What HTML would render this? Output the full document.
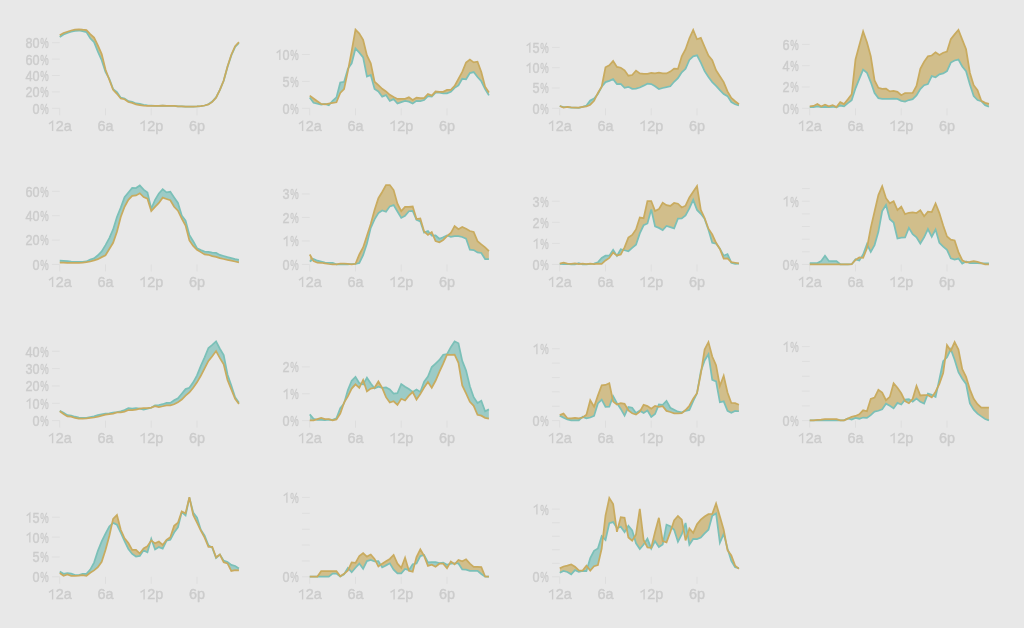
<!DOCTYPE html>
<html><head><meta charset="utf-8"><title>chart</title>
<style>
html,body{margin:0;padding:0;background:#e8e8e8;}
body{width:1024px;height:628px;overflow:hidden;}
svg{display:block;will-change:transform;opacity:0.999;}
text{font-family:"Liberation Sans",sans-serif;font-size:14.4px;fill:#cccccc;letter-spacing:0px;stroke:#cccccc;stroke-width:0.4px;}
.pc{letter-spacing:0;}
.h{fill:none;stroke:none;}
.one{fill:none;stroke:#cccccc;stroke-width:1.35;stroke-linejoin:miter;}
.yl{text-anchor:end;}
.xl{text-anchor:middle;}
.t{stroke:#dedede;stroke-width:1;fill:none;}
.lg{stroke:#c9ab5f;stroke-width:1.75;fill:none;stroke-linejoin:miter;stroke-linecap:butt;}
.lt{stroke:#7bc0b8;stroke-width:1.75;fill:none;stroke-linejoin:miter;stroke-linecap:butt;}
</style></head><body>
<svg width="1024" height="628" viewBox="0 0 1024 628">
<rect width="1024" height="628" fill="#e8e8e8"/>
<g>
<line x1="51.95" x2="59.75" y1="108.30" y2="108.30" class="t"/>
<text class="pc" transform="translate(40.25 113.70) scale(0.66 1)">%</text>
<text class="yl" transform="translate(39.65 113.70) scale(0.88 1)">0</text>
<line x1="51.95" x2="59.75" y1="91.90" y2="91.90" class="t"/>
<text class="pc" transform="translate(40.25 97.30) scale(0.66 1)">%</text>
<text class="yl" transform="translate(39.65 97.30) scale(0.88 1)">20</text>
<line x1="51.95" x2="59.75" y1="75.50" y2="75.50" class="t"/>
<text class="pc" transform="translate(40.25 80.90) scale(0.66 1)">%</text>
<text class="yl" transform="translate(39.65 80.90) scale(0.88 1)">40</text>
<line x1="51.95" x2="59.75" y1="59.10" y2="59.10" class="t"/>
<text class="pc" transform="translate(40.25 64.50) scale(0.66 1)">%</text>
<text class="yl" transform="translate(39.65 64.50) scale(0.88 1)">60</text>
<line x1="51.95" x2="59.75" y1="42.70" y2="42.70" class="t"/>
<text class="pc" transform="translate(40.25 48.10) scale(0.66 1)">%</text>
<text class="yl" transform="translate(39.65 48.10) scale(0.88 1)">80</text>
<line x1="59.75" x2="59.75" y1="108.30" y2="115.30" class="t"/>
<text x="59.75" y="130.90" class="xl"><tspan class="h">1</tspan>2a</text>
<path class="one" d="M48.95,123.90L52.60,121.40L52.60,130.90"/>
<line x1="105.50" x2="105.50" y1="108.30" y2="115.30" class="t"/>
<text x="105.50" y="130.90" class="xl">6a</text>
<line x1="151.25" x2="151.25" y1="108.30" y2="115.30" class="t"/>
<text x="151.25" y="130.90" class="xl"><tspan class="h">1</tspan>2p</text>
<path class="one" d="M140.45,123.90L144.10,121.40L144.10,130.90"/>
<line x1="197.00" x2="197.00" y1="108.30" y2="115.30" class="t"/>
<text x="197.00" y="130.90" class="xl">6p</text>
<clipPath id="c0a"><path d="M59.75,37.06L63.56,34.41L67.38,32.84L71.19,31.75L75.00,30.97L78.81,30.51L82.62,31.13L86.44,32.11L90.25,38.31L94.06,42.23L97.88,51.59L101.69,60.19L105.50,71.91L109.31,78.94L113.12,89.08L116.94,92.22L120.75,97.65L124.56,98.48L128.38,101.12L132.19,101.91L136.00,103.46L139.81,103.94L143.62,104.88L147.44,105.34L151.25,105.66L155.06,105.97L158.88,105.81L162.69,105.66L166.50,105.81L170.31,105.81L174.12,105.97L177.94,106.28L181.75,106.44L185.56,106.59L189.38,106.59L193.19,106.59L197.00,106.44L200.81,106.13L204.62,105.50L208.44,104.24L212.25,101.59L216.06,97.38L219.88,89.88L223.69,80.81L227.50,67.06L231.31,55.50L235.12,46.92L238.94,43.00L238.94,-11.70L59.75,-11.70Z"/></clipPath>
<clipPath id="c0b"><path d="M59.75,35.19L63.56,33.00L67.38,31.75L71.19,30.50L75.00,29.72L78.81,29.26L82.62,29.72L86.44,30.08L90.25,34.09L94.06,37.54L97.88,45.34L101.69,53.94L105.50,69.56L109.31,79.72L113.12,89.87L116.94,93.78L120.75,98.43L124.56,99.27L128.38,102.04L132.19,102.84L136.00,104.41L139.81,105.03L143.62,105.66L147.44,105.81L151.25,105.97L155.06,105.97L158.88,105.81L162.69,105.66L166.50,105.81L170.31,105.81L174.12,105.97L177.94,106.28L181.75,106.44L185.56,106.59L189.38,106.59L193.19,106.59L197.00,106.44L200.81,106.13L204.62,105.50L208.44,104.40L212.25,101.91L216.06,97.69L219.88,89.88L223.69,80.50L227.50,66.44L231.31,54.72L235.12,46.14L238.94,42.22L238.94,-11.70L59.75,-11.70Z"/></clipPath>
<path d="M59.75,35.19L63.56,33.00L67.38,31.75L71.19,30.50L75.00,29.72L78.81,29.26L82.62,29.72L86.44,30.08L90.25,34.09L94.06,37.54L97.88,45.34L101.69,53.94L105.50,69.56L109.31,79.72L113.12,89.87L116.94,93.78L120.75,98.43L124.56,99.27L128.38,102.04L132.19,102.84L136.00,104.41L139.81,105.03L143.62,105.66L147.44,105.81L151.25,105.97L155.06,105.97L158.88,105.81L162.69,105.66L166.50,105.81L170.31,105.81L174.12,105.97L177.94,106.28L181.75,106.44L185.56,106.59L189.38,106.59L193.19,106.59L197.00,106.44L200.81,106.13L204.62,105.50L208.44,104.40L212.25,101.91L216.06,97.69L219.88,89.88L223.69,80.50L227.50,66.44L231.31,54.72L235.12,46.14L238.94,42.22L238.94,128.30L59.75,128.30Z" clip-path="url(#c0a)" fill="#d1be8b"/>
<path d="M59.75,37.06L63.56,34.41L67.38,32.84L71.19,31.75L75.00,30.97L78.81,30.51L82.62,31.13L86.44,32.11L90.25,38.31L94.06,42.23L97.88,51.59L101.69,60.19L105.50,71.91L109.31,78.94L113.12,89.08L116.94,92.22L120.75,97.65L124.56,98.48L128.38,101.12L132.19,101.91L136.00,103.46L139.81,103.94L143.62,104.88L147.44,105.34L151.25,105.66L155.06,105.97L158.88,105.81L162.69,105.66L166.50,105.81L170.31,105.81L174.12,105.97L177.94,106.28L181.75,106.44L185.56,106.59L189.38,106.59L193.19,106.59L197.00,106.44L200.81,106.13L204.62,105.50L208.44,104.24L212.25,101.59L216.06,97.38L219.88,89.88L223.69,80.81L227.50,67.06L231.31,55.50L235.12,46.92L238.94,43.00L238.94,128.30L59.75,128.30Z" clip-path="url(#c0b)" fill="#9ccbc6"/>
<path d="M59.75,37.06L63.56,34.41L67.38,32.84L71.19,31.75L75.00,30.97L78.81,30.51L82.62,31.13L86.44,32.11L90.25,38.31L94.06,42.23L97.88,51.59L101.69,60.19L105.50,71.91L109.31,78.94L113.12,89.08L116.94,92.22L120.75,97.65L124.56,98.48L128.38,101.12L132.19,101.91L136.00,103.46L139.81,103.94L143.62,104.88L147.44,105.34L151.25,105.66L155.06,105.97L158.88,105.81L162.69,105.66L166.50,105.81L170.31,105.81L174.12,105.97L177.94,106.28L181.75,106.44L185.56,106.59L189.38,106.59L193.19,106.59L197.00,106.44L200.81,106.13L204.62,105.50L208.44,104.24L212.25,101.59L216.06,97.38L219.88,89.88L223.69,80.81L227.50,67.06L231.31,55.50L235.12,46.92L238.94,43.00" class="lt"/>
<path d="M59.75,35.19L63.56,33.00L67.38,31.75L71.19,30.50L75.00,29.72L78.81,29.26L82.62,29.72L86.44,30.08L90.25,34.09L94.06,37.54L97.88,45.34L101.69,53.94L105.50,69.56L109.31,79.72L113.12,89.87L116.94,93.78L120.75,98.43L124.56,99.27L128.38,102.04L132.19,102.84L136.00,104.41L139.81,105.03L143.62,105.66L147.44,105.81L151.25,105.97L155.06,105.97L158.88,105.81L162.69,105.66L166.50,105.81L170.31,105.81L174.12,105.97L177.94,106.28L181.75,106.44L185.56,106.59L189.38,106.59L193.19,106.59L197.00,106.44L200.81,106.13L204.62,105.50L208.44,104.40L212.25,101.91L216.06,97.69L219.88,89.88L223.69,80.50L227.50,66.44L231.31,54.72L235.12,46.14L238.94,42.22" class="lg"/>
</g>
<g>
<line x1="301.95" x2="309.75" y1="108.30" y2="108.30" class="t"/>
<text class="pc" transform="translate(290.25 113.70) scale(0.66 1)">%</text>
<text class="yl" transform="translate(289.65 113.70) scale(0.88 1)">0</text>
<line x1="301.95" x2="309.75" y1="81.40" y2="81.40" class="t"/>
<text class="pc" transform="translate(290.25 86.80) scale(0.66 1)">%</text>
<text class="yl" transform="translate(289.65 86.80) scale(0.88 1)">5</text>
<line x1="301.95" x2="309.75" y1="54.50" y2="54.50" class="t"/>
<text class="pc" transform="translate(290.25 59.90) scale(0.66 1)">%</text>
<text class="yl" transform="translate(289.65 59.90) scale(0.88 1)"><tspan class="h">1</tspan>0</text>
<path class="one" d="M276.63,52.90L279.84,50.40L279.84,59.90"/>
<line x1="309.75" x2="309.75" y1="108.30" y2="115.30" class="t"/>
<text x="309.75" y="130.90" class="xl"><tspan class="h">1</tspan>2a</text>
<path class="one" d="M298.95,123.90L302.60,121.40L302.60,130.90"/>
<line x1="355.50" x2="355.50" y1="108.30" y2="115.30" class="t"/>
<text x="355.50" y="130.90" class="xl">6a</text>
<line x1="401.25" x2="401.25" y1="108.30" y2="115.30" class="t"/>
<text x="401.25" y="130.90" class="xl"><tspan class="h">1</tspan>2p</text>
<path class="one" d="M390.45,123.90L394.10,121.40L394.10,130.90"/>
<line x1="447.00" x2="447.00" y1="108.30" y2="115.30" class="t"/>
<text x="447.00" y="130.90" class="xl">6p</text>
<clipPath id="c1a"><path d="M309.75,97.38L313.56,102.80L317.38,103.63L321.19,104.70L325.00,103.97L328.81,105.33L332.62,100.81L336.44,97.36L340.25,82.50L344.06,81.94L347.88,68.78L351.69,63.31L355.50,48.60L359.31,52.69L363.12,57.39L366.94,76.55L370.75,75.03L374.56,89.06L378.38,91.45L382.19,96.68L386.00,95.13L389.81,100.86L393.62,99.16L397.44,103.46L401.25,102.06L405.06,100.83L408.88,101.60L412.69,103.50L416.50,100.86L420.31,101.12L424.12,100.01L427.94,96.21L431.75,96.51L435.56,92.74L439.38,92.69L443.19,93.46L447.00,93.30L450.81,91.74L454.62,87.84L458.44,85.48L462.25,78.78L466.06,79.26L469.88,73.04L473.69,72.05L477.50,77.06L481.31,81.28L485.12,89.09L488.94,95.34L488.94,-11.70L309.75,-11.70Z"/></clipPath>
<clipPath id="c1b"><path d="M309.75,95.66L313.56,98.47L317.38,101.28L321.19,103.92L325.00,104.40L328.81,103.63L332.62,102.84L336.44,102.29L340.25,93.01L344.06,89.08L347.88,71.13L351.69,50.81L355.50,29.65L359.31,33.63L363.12,39.88L366.94,55.50L370.75,63.31L374.56,81.73L378.38,85.19L382.19,88.78L386.00,91.44L389.81,94.88L393.62,97.06L397.44,98.92L401.25,98.94L405.06,98.77L408.88,97.32L412.69,99.89L416.50,97.73L420.31,98.16L424.12,98.10L427.94,93.97L431.75,95.62L435.56,91.53L439.38,91.91L443.19,91.89L447.00,89.90L450.81,89.83L454.62,85.97L458.44,78.94L462.25,71.91L466.06,62.54L469.88,59.61L473.69,62.44L477.50,61.67L481.31,71.91L485.12,86.75L488.94,92.53L488.94,-11.70L309.75,-11.70Z"/></clipPath>
<path d="M309.75,95.66L313.56,98.47L317.38,101.28L321.19,103.92L325.00,104.40L328.81,103.63L332.62,102.84L336.44,102.29L340.25,93.01L344.06,89.08L347.88,71.13L351.69,50.81L355.50,29.65L359.31,33.63L363.12,39.88L366.94,55.50L370.75,63.31L374.56,81.73L378.38,85.19L382.19,88.78L386.00,91.44L389.81,94.88L393.62,97.06L397.44,98.92L401.25,98.94L405.06,98.77L408.88,97.32L412.69,99.89L416.50,97.73L420.31,98.16L424.12,98.10L427.94,93.97L431.75,95.62L435.56,91.53L439.38,91.91L443.19,91.89L447.00,89.90L450.81,89.83L454.62,85.97L458.44,78.94L462.25,71.91L466.06,62.54L469.88,59.61L473.69,62.44L477.50,61.67L481.31,71.91L485.12,86.75L488.94,92.53L488.94,128.30L309.75,128.30Z" clip-path="url(#c1a)" fill="#d1be8b"/>
<path d="M309.75,97.38L313.56,102.80L317.38,103.63L321.19,104.70L325.00,103.97L328.81,105.33L332.62,100.81L336.44,97.36L340.25,82.50L344.06,81.94L347.88,68.78L351.69,63.31L355.50,48.60L359.31,52.69L363.12,57.39L366.94,76.55L370.75,75.03L374.56,89.06L378.38,91.45L382.19,96.68L386.00,95.13L389.81,100.86L393.62,99.16L397.44,103.46L401.25,102.06L405.06,100.83L408.88,101.60L412.69,103.50L416.50,100.86L420.31,101.12L424.12,100.01L427.94,96.21L431.75,96.51L435.56,92.74L439.38,92.69L443.19,93.46L447.00,93.30L450.81,91.74L454.62,87.84L458.44,85.48L462.25,78.78L466.06,79.26L469.88,73.04L473.69,72.05L477.50,77.06L481.31,81.28L485.12,89.09L488.94,95.34L488.94,128.30L309.75,128.30Z" clip-path="url(#c1b)" fill="#9ccbc6"/>
<path d="M309.75,97.38L313.56,102.80L317.38,103.63L321.19,104.70L325.00,103.97L328.81,105.33L332.62,100.81L336.44,97.36L340.25,82.50L344.06,81.94L347.88,68.78L351.69,63.31L355.50,48.60L359.31,52.69L363.12,57.39L366.94,76.55L370.75,75.03L374.56,89.06L378.38,91.45L382.19,96.68L386.00,95.13L389.81,100.86L393.62,99.16L397.44,103.46L401.25,102.06L405.06,100.83L408.88,101.60L412.69,103.50L416.50,100.86L420.31,101.12L424.12,100.01L427.94,96.21L431.75,96.51L435.56,92.74L439.38,92.69L443.19,93.46L447.00,93.30L450.81,91.74L454.62,87.84L458.44,85.48L462.25,78.78L466.06,79.26L469.88,73.04L473.69,72.05L477.50,77.06L481.31,81.28L485.12,89.09L488.94,95.34" class="lt"/>
<path d="M309.75,95.66L313.56,98.47L317.38,101.28L321.19,103.92L325.00,104.40L328.81,103.63L332.62,102.84L336.44,102.29L340.25,93.01L344.06,89.08L347.88,71.13L351.69,50.81L355.50,29.65L359.31,33.63L363.12,39.88L366.94,55.50L370.75,63.31L374.56,81.73L378.38,85.19L382.19,88.78L386.00,91.44L389.81,94.88L393.62,97.06L397.44,98.92L401.25,98.94L405.06,98.77L408.88,97.32L412.69,99.89L416.50,97.73L420.31,98.16L424.12,98.10L427.94,93.97L431.75,95.62L435.56,91.53L439.38,91.91L443.19,91.89L447.00,89.90L450.81,89.83L454.62,85.97L458.44,78.94L462.25,71.91L466.06,62.54L469.88,59.61L473.69,62.44L477.50,61.67L481.31,71.91L485.12,86.75L488.94,92.53" class="lg"/>
</g>
<g>
<line x1="551.95" x2="559.75" y1="108.30" y2="108.30" class="t"/>
<text class="pc" transform="translate(540.25 113.70) scale(0.66 1)">%</text>
<text class="yl" transform="translate(539.65 113.70) scale(0.88 1)">0</text>
<line x1="551.95" x2="559.75" y1="88.00" y2="88.00" class="t"/>
<text class="pc" transform="translate(540.25 93.40) scale(0.66 1)">%</text>
<text class="yl" transform="translate(539.65 93.40) scale(0.88 1)">5</text>
<line x1="551.95" x2="559.75" y1="67.70" y2="67.70" class="t"/>
<text class="pc" transform="translate(540.25 73.10) scale(0.66 1)">%</text>
<text class="yl" transform="translate(539.65 73.10) scale(0.88 1)"><tspan class="h">1</tspan>0</text>
<path class="one" d="M526.63,66.10L529.84,63.60L529.84,73.10"/>
<line x1="551.95" x2="559.75" y1="47.40" y2="47.40" class="t"/>
<text class="pc" transform="translate(540.25 52.80) scale(0.66 1)">%</text>
<text class="yl" transform="translate(539.65 52.80) scale(0.88 1)"><tspan class="h">1</tspan>5</text>
<path class="one" d="M526.63,45.80L529.84,43.30L529.84,52.80"/>
<line x1="559.75" x2="559.75" y1="108.30" y2="115.30" class="t"/>
<text x="559.75" y="130.90" class="xl"><tspan class="h">1</tspan>2a</text>
<path class="one" d="M548.95,123.90L552.60,121.40L552.60,130.90"/>
<line x1="605.50" x2="605.50" y1="108.30" y2="115.30" class="t"/>
<text x="605.50" y="130.90" class="xl">6a</text>
<line x1="651.25" x2="651.25" y1="108.30" y2="115.30" class="t"/>
<text x="651.25" y="130.90" class="xl"><tspan class="h">1</tspan>2p</text>
<path class="one" d="M640.45,123.90L644.10,121.40L644.10,130.90"/>
<line x1="697.00" x2="697.00" y1="108.30" y2="115.30" class="t"/>
<text x="697.00" y="130.90" class="xl">6p</text>
<clipPath id="c2a"><path d="M559.75,105.97L563.56,107.06L567.38,107.22L571.19,107.53L575.00,107.69L578.81,107.83L582.62,106.91L586.44,105.48L590.25,100.36L594.06,98.46L597.88,94.09L601.69,86.75L605.50,82.08L609.31,80.81L613.12,79.15L616.94,84.01L620.75,84.00L624.56,87.87L628.38,86.81L632.19,88.76L636.00,88.62L639.81,87.53L643.62,85.66L647.44,83.66L651.25,84.10L655.06,86.28L658.88,89.01L662.69,88.00L666.50,87.22L670.31,86.25L674.12,81.75L677.94,78.16L681.75,72.38L685.56,68.77L689.38,59.89L693.19,56.30L697.00,55.38L700.81,62.53L704.62,71.13L708.44,77.06L712.25,82.06L716.06,85.97L719.88,90.19L723.69,94.08L727.50,96.15L731.31,102.05L735.12,104.25L738.94,105.50L738.94,-11.70L559.75,-11.70Z"/></clipPath>
<clipPath id="c2b"><path d="M559.75,105.97L563.56,107.50L567.38,106.92L571.19,107.38L575.00,107.53L578.81,107.68L582.62,106.91L586.44,106.28L590.25,104.71L594.06,100.80L597.88,93.00L601.69,86.75L605.50,67.27L609.31,65.33L613.12,61.04L616.94,66.86L620.75,67.70L624.56,70.35L628.38,75.68L632.19,74.99L636.00,70.63L639.81,73.44L643.62,73.94L647.44,73.78L651.25,73.01L655.06,73.46L658.88,72.70L662.69,73.47L666.50,73.45L670.31,71.59L674.12,68.54L677.94,68.89L681.75,56.28L685.56,49.25L689.38,38.31L693.19,29.94L697.00,39.21L700.81,37.85L704.62,46.91L708.44,55.50L712.25,60.19L716.06,70.34L719.88,76.28L723.69,82.06L727.50,91.44L731.31,97.99L735.12,101.28L738.94,104.25L738.94,-11.70L559.75,-11.70Z"/></clipPath>
<path d="M559.75,105.97L563.56,107.50L567.38,106.92L571.19,107.38L575.00,107.53L578.81,107.68L582.62,106.91L586.44,106.28L590.25,104.71L594.06,100.80L597.88,93.00L601.69,86.75L605.50,67.27L609.31,65.33L613.12,61.04L616.94,66.86L620.75,67.70L624.56,70.35L628.38,75.68L632.19,74.99L636.00,70.63L639.81,73.44L643.62,73.94L647.44,73.78L651.25,73.01L655.06,73.46L658.88,72.70L662.69,73.47L666.50,73.45L670.31,71.59L674.12,68.54L677.94,68.89L681.75,56.28L685.56,49.25L689.38,38.31L693.19,29.94L697.00,39.21L700.81,37.85L704.62,46.91L708.44,55.50L712.25,60.19L716.06,70.34L719.88,76.28L723.69,82.06L727.50,91.44L731.31,97.99L735.12,101.28L738.94,104.25L738.94,128.30L559.75,128.30Z" clip-path="url(#c2a)" fill="#d1be8b"/>
<path d="M559.75,105.97L563.56,107.06L567.38,107.22L571.19,107.53L575.00,107.69L578.81,107.83L582.62,106.91L586.44,105.48L590.25,100.36L594.06,98.46L597.88,94.09L601.69,86.75L605.50,82.08L609.31,80.81L613.12,79.15L616.94,84.01L620.75,84.00L624.56,87.87L628.38,86.81L632.19,88.76L636.00,88.62L639.81,87.53L643.62,85.66L647.44,83.66L651.25,84.10L655.06,86.28L658.88,89.01L662.69,88.00L666.50,87.22L670.31,86.25L674.12,81.75L677.94,78.16L681.75,72.38L685.56,68.77L689.38,59.89L693.19,56.30L697.00,55.38L700.81,62.53L704.62,71.13L708.44,77.06L712.25,82.06L716.06,85.97L719.88,90.19L723.69,94.08L727.50,96.15L731.31,102.05L735.12,104.25L738.94,105.50L738.94,128.30L559.75,128.30Z" clip-path="url(#c2b)" fill="#9ccbc6"/>
<path d="M559.75,105.97L563.56,107.06L567.38,107.22L571.19,107.53L575.00,107.69L578.81,107.83L582.62,106.91L586.44,105.48L590.25,100.36L594.06,98.46L597.88,94.09L601.69,86.75L605.50,82.08L609.31,80.81L613.12,79.15L616.94,84.01L620.75,84.00L624.56,87.87L628.38,86.81L632.19,88.76L636.00,88.62L639.81,87.53L643.62,85.66L647.44,83.66L651.25,84.10L655.06,86.28L658.88,89.01L662.69,88.00L666.50,87.22L670.31,86.25L674.12,81.75L677.94,78.16L681.75,72.38L685.56,68.77L689.38,59.89L693.19,56.30L697.00,55.38L700.81,62.53L704.62,71.13L708.44,77.06L712.25,82.06L716.06,85.97L719.88,90.19L723.69,94.08L727.50,96.15L731.31,102.05L735.12,104.25L738.94,105.50" class="lt"/>
<path d="M559.75,105.97L563.56,107.50L567.38,106.92L571.19,107.38L575.00,107.53L578.81,107.68L582.62,106.91L586.44,106.28L590.25,104.71L594.06,100.80L597.88,93.00L601.69,86.75L605.50,67.27L609.31,65.33L613.12,61.04L616.94,66.86L620.75,67.70L624.56,70.35L628.38,75.68L632.19,74.99L636.00,70.63L639.81,73.44L643.62,73.94L647.44,73.78L651.25,73.01L655.06,73.46L658.88,72.70L662.69,73.47L666.50,73.45L670.31,71.59L674.12,68.54L677.94,68.89L681.75,56.28L685.56,49.25L689.38,38.31L693.19,29.94L697.00,39.21L700.81,37.85L704.62,46.91L708.44,55.50L712.25,60.19L716.06,70.34L719.88,76.28L723.69,82.06L727.50,91.44L731.31,97.99L735.12,101.28L738.94,104.25" class="lg"/>
</g>
<g>
<line x1="801.95" x2="809.75" y1="108.30" y2="108.30" class="t"/>
<text class="pc" transform="translate(790.25 113.70) scale(0.66 1)">%</text>
<text class="yl" transform="translate(789.65 113.70) scale(0.88 1)">0</text>
<line x1="801.95" x2="809.75" y1="87.00" y2="87.00" class="t"/>
<text class="pc" transform="translate(790.25 92.40) scale(0.66 1)">%</text>
<text class="yl" transform="translate(789.65 92.40) scale(0.88 1)">2</text>
<line x1="801.95" x2="809.75" y1="65.70" y2="65.70" class="t"/>
<text class="pc" transform="translate(790.25 71.10) scale(0.66 1)">%</text>
<text class="yl" transform="translate(789.65 71.10) scale(0.88 1)">4</text>
<line x1="801.95" x2="809.75" y1="44.40" y2="44.40" class="t"/>
<text class="pc" transform="translate(790.25 49.80) scale(0.66 1)">%</text>
<text class="yl" transform="translate(789.65 49.80) scale(0.88 1)">6</text>
<line x1="809.75" x2="809.75" y1="108.30" y2="115.30" class="t"/>
<text x="809.75" y="130.90" class="xl"><tspan class="h">1</tspan>2a</text>
<path class="one" d="M798.95,123.90L802.60,121.40L802.60,130.90"/>
<line x1="855.50" x2="855.50" y1="108.30" y2="115.30" class="t"/>
<text x="855.50" y="130.90" class="xl">6a</text>
<line x1="901.25" x2="901.25" y1="108.30" y2="115.30" class="t"/>
<text x="901.25" y="130.90" class="xl"><tspan class="h">1</tspan>2p</text>
<path class="one" d="M890.45,123.90L894.10,121.40L894.10,130.90"/>
<line x1="947.00" x2="947.00" y1="108.30" y2="115.30" class="t"/>
<text x="947.00" y="130.90" class="xl">6p</text>
<clipPath id="c3a"><path d="M809.75,107.06L813.56,107.06L817.38,106.45L821.19,107.21L825.00,106.76L828.81,107.21L832.62,106.76L836.44,107.35L840.25,105.54L844.06,106.35L847.88,103.16L851.69,100.32L855.50,88.31L859.31,78.94L863.12,69.63L866.94,72.70L870.75,82.06L874.56,93.00L878.38,98.11L882.19,98.78L886.00,98.94L889.81,98.94L893.62,98.63L897.44,98.95L901.25,100.80L905.06,101.56L908.88,100.03L912.69,99.22L916.50,95.34L920.31,89.09L924.12,85.21L927.94,84.04L931.75,76.06L935.56,77.27L939.38,74.27L943.19,73.46L947.00,71.11L950.81,62.56L954.62,60.50L958.44,59.59L962.25,66.44L966.06,71.14L969.88,84.41L973.69,96.12L977.50,100.01L981.31,101.15L985.12,105.18L988.94,106.75L988.94,-11.70L809.75,-11.70Z"/></clipPath>
<clipPath id="c3b"><path d="M809.75,106.28L813.56,105.96L817.38,104.06L821.19,106.47L825.00,104.64L828.81,106.23L832.62,105.10L836.44,107.12L840.25,102.18L844.06,104.15L847.88,99.25L851.69,94.24L855.50,59.41L859.31,45.34L863.12,31.41L866.94,42.22L870.75,56.28L874.56,80.50L878.38,87.79L882.19,88.77L886.00,88.67L889.81,91.39L893.62,90.98L897.44,91.77L901.25,95.16L905.06,93.03L908.88,93.00L912.69,92.90L916.50,85.97L920.31,68.78L924.12,61.75L927.94,56.32L931.75,55.48L935.56,52.28L939.38,55.02L943.19,52.70L947.00,51.52L950.81,39.10L954.62,34.41L958.44,30.02L962.25,39.56L966.06,49.25L969.88,72.69L973.69,85.18L977.50,90.19L981.31,100.78L985.12,102.84L988.94,103.94L988.94,-11.70L809.75,-11.70Z"/></clipPath>
<path d="M809.75,106.28L813.56,105.96L817.38,104.06L821.19,106.47L825.00,104.64L828.81,106.23L832.62,105.10L836.44,107.12L840.25,102.18L844.06,104.15L847.88,99.25L851.69,94.24L855.50,59.41L859.31,45.34L863.12,31.41L866.94,42.22L870.75,56.28L874.56,80.50L878.38,87.79L882.19,88.77L886.00,88.67L889.81,91.39L893.62,90.98L897.44,91.77L901.25,95.16L905.06,93.03L908.88,93.00L912.69,92.90L916.50,85.97L920.31,68.78L924.12,61.75L927.94,56.32L931.75,55.48L935.56,52.28L939.38,55.02L943.19,52.70L947.00,51.52L950.81,39.10L954.62,34.41L958.44,30.02L962.25,39.56L966.06,49.25L969.88,72.69L973.69,85.18L977.50,90.19L981.31,100.78L985.12,102.84L988.94,103.94L988.94,128.30L809.75,128.30Z" clip-path="url(#c3a)" fill="#d1be8b"/>
<path d="M809.75,107.06L813.56,107.06L817.38,106.45L821.19,107.21L825.00,106.76L828.81,107.21L832.62,106.76L836.44,107.35L840.25,105.54L844.06,106.35L847.88,103.16L851.69,100.32L855.50,88.31L859.31,78.94L863.12,69.63L866.94,72.70L870.75,82.06L874.56,93.00L878.38,98.11L882.19,98.78L886.00,98.94L889.81,98.94L893.62,98.63L897.44,98.95L901.25,100.80L905.06,101.56L908.88,100.03L912.69,99.22L916.50,95.34L920.31,89.09L924.12,85.21L927.94,84.04L931.75,76.06L935.56,77.27L939.38,74.27L943.19,73.46L947.00,71.11L950.81,62.56L954.62,60.50L958.44,59.59L962.25,66.44L966.06,71.14L969.88,84.41L973.69,96.12L977.50,100.01L981.31,101.15L985.12,105.18L988.94,106.75L988.94,128.30L809.75,128.30Z" clip-path="url(#c3b)" fill="#9ccbc6"/>
<path d="M809.75,107.06L813.56,107.06L817.38,106.45L821.19,107.21L825.00,106.76L828.81,107.21L832.62,106.76L836.44,107.35L840.25,105.54L844.06,106.35L847.88,103.16L851.69,100.32L855.50,88.31L859.31,78.94L863.12,69.63L866.94,72.70L870.75,82.06L874.56,93.00L878.38,98.11L882.19,98.78L886.00,98.94L889.81,98.94L893.62,98.63L897.44,98.95L901.25,100.80L905.06,101.56L908.88,100.03L912.69,99.22L916.50,95.34L920.31,89.09L924.12,85.21L927.94,84.04L931.75,76.06L935.56,77.27L939.38,74.27L943.19,73.46L947.00,71.11L950.81,62.56L954.62,60.50L958.44,59.59L962.25,66.44L966.06,71.14L969.88,84.41L973.69,96.12L977.50,100.01L981.31,101.15L985.12,105.18L988.94,106.75" class="lt"/>
<path d="M809.75,106.28L813.56,105.96L817.38,104.06L821.19,106.47L825.00,104.64L828.81,106.23L832.62,105.10L836.44,107.12L840.25,102.18L844.06,104.15L847.88,99.25L851.69,94.24L855.50,59.41L859.31,45.34L863.12,31.41L866.94,42.22L870.75,56.28L874.56,80.50L878.38,87.79L882.19,88.77L886.00,88.67L889.81,91.39L893.62,90.98L897.44,91.77L901.25,95.16L905.06,93.03L908.88,93.00L912.69,92.90L916.50,85.97L920.31,68.78L924.12,61.75L927.94,56.32L931.75,55.48L935.56,52.28L939.38,55.02L943.19,52.70L947.00,51.52L950.81,39.10L954.62,34.41L958.44,30.02L962.25,39.56L966.06,49.25L969.88,72.69L973.69,85.18L977.50,90.19L981.31,100.78L985.12,102.84L988.94,103.94" class="lg"/>
</g>
<g>
<line x1="51.95" x2="59.75" y1="264.47" y2="264.47" class="t"/>
<text class="pc" transform="translate(40.25 269.87) scale(0.66 1)">%</text>
<text class="yl" transform="translate(39.65 269.87) scale(0.88 1)">0</text>
<line x1="51.95" x2="59.75" y1="240.07" y2="240.07" class="t"/>
<text class="pc" transform="translate(40.25 245.47) scale(0.66 1)">%</text>
<text class="yl" transform="translate(39.65 245.47) scale(0.88 1)">20</text>
<line x1="51.95" x2="59.75" y1="215.67" y2="215.67" class="t"/>
<text class="pc" transform="translate(40.25 221.07) scale(0.66 1)">%</text>
<text class="yl" transform="translate(39.65 221.07) scale(0.88 1)">40</text>
<line x1="51.95" x2="59.75" y1="191.27" y2="191.27" class="t"/>
<text class="pc" transform="translate(40.25 196.67) scale(0.66 1)">%</text>
<text class="yl" transform="translate(39.65 196.67) scale(0.88 1)">60</text>
<line x1="59.75" x2="59.75" y1="264.47" y2="271.47" class="t"/>
<text x="59.75" y="287.07" class="xl"><tspan class="h">1</tspan>2a</text>
<path class="one" d="M48.95,280.07L52.60,277.57L52.60,287.07"/>
<line x1="105.50" x2="105.50" y1="264.47" y2="271.47" class="t"/>
<text x="105.50" y="287.07" class="xl">6a</text>
<line x1="151.25" x2="151.25" y1="264.47" y2="271.47" class="t"/>
<text x="151.25" y="287.07" class="xl"><tspan class="h">1</tspan>2p</text>
<path class="one" d="M140.45,280.07L144.10,277.57L144.10,287.07"/>
<line x1="197.00" x2="197.00" y1="264.47" y2="271.47" class="t"/>
<text x="197.00" y="287.07" class="xl">6p</text>
<clipPath id="c4a"><path d="M59.75,260.72L63.56,260.88L67.38,261.03L71.19,261.50L75.00,261.81L78.81,261.97L82.62,261.97L86.44,261.49L90.25,259.63L94.06,258.37L97.88,255.25L101.69,251.34L105.50,245.09L109.31,238.06L113.12,229.47L116.94,216.97L120.75,207.59L124.56,197.13L128.38,192.44L132.19,187.83L136.00,188.01L139.81,185.50L143.62,189.63L147.44,192.47L151.25,208.80L155.06,199.78L158.88,193.53L162.69,189.17L166.50,192.35L170.31,191.79L174.12,197.44L177.94,202.91L181.75,215.41L185.56,220.57L189.38,234.94L193.19,241.19L197.00,248.19L200.81,250.09L204.62,251.65L208.44,251.97L212.25,252.59L216.06,252.92L219.88,254.94L223.69,256.03L227.50,257.13L231.31,258.06L235.12,259.16L238.94,259.94L238.94,144.47L59.75,144.47Z"/></clipPath>
<clipPath id="c4b"><path d="M59.75,262.59L63.56,262.59L67.38,262.75L71.19,262.75L75.00,262.75L78.81,262.75L82.62,262.59L86.44,262.13L90.25,261.50L94.06,260.41L97.88,259.16L101.69,257.13L105.50,255.23L109.31,249.00L113.12,242.75L116.94,231.81L120.75,216.97L124.56,206.81L128.38,199.78L132.19,195.92L136.00,195.39L139.81,193.26L143.62,197.12L147.44,198.74L151.25,211.10L155.06,206.81L158.88,202.91L162.69,197.63L166.50,199.00L170.31,200.29L174.12,206.81L177.94,210.73L181.75,218.53L185.56,225.56L189.38,240.41L193.19,245.88L197.00,249.78L200.81,252.13L204.62,254.45L208.44,254.79L212.25,256.19L216.06,256.81L219.88,258.06L223.69,259.00L227.50,259.94L231.31,260.72L235.12,261.50L238.94,262.28L238.94,144.47L59.75,144.47Z"/></clipPath>
<path d="M59.75,262.59L63.56,262.59L67.38,262.75L71.19,262.75L75.00,262.75L78.81,262.75L82.62,262.59L86.44,262.13L90.25,261.50L94.06,260.41L97.88,259.16L101.69,257.13L105.50,255.23L109.31,249.00L113.12,242.75L116.94,231.81L120.75,216.97L124.56,206.81L128.38,199.78L132.19,195.92L136.00,195.39L139.81,193.26L143.62,197.12L147.44,198.74L151.25,211.10L155.06,206.81L158.88,202.91L162.69,197.63L166.50,199.00L170.31,200.29L174.12,206.81L177.94,210.73L181.75,218.53L185.56,225.56L189.38,240.41L193.19,245.88L197.00,249.78L200.81,252.13L204.62,254.45L208.44,254.79L212.25,256.19L216.06,256.81L219.88,258.06L223.69,259.00L227.50,259.94L231.31,260.72L235.12,261.50L238.94,262.28L238.94,284.47L59.75,284.47Z" clip-path="url(#c4a)" fill="#d1be8b"/>
<path d="M59.75,260.72L63.56,260.88L67.38,261.03L71.19,261.50L75.00,261.81L78.81,261.97L82.62,261.97L86.44,261.49L90.25,259.63L94.06,258.37L97.88,255.25L101.69,251.34L105.50,245.09L109.31,238.06L113.12,229.47L116.94,216.97L120.75,207.59L124.56,197.13L128.38,192.44L132.19,187.83L136.00,188.01L139.81,185.50L143.62,189.63L147.44,192.47L151.25,208.80L155.06,199.78L158.88,193.53L162.69,189.17L166.50,192.35L170.31,191.79L174.12,197.44L177.94,202.91L181.75,215.41L185.56,220.57L189.38,234.94L193.19,241.19L197.00,248.19L200.81,250.09L204.62,251.65L208.44,251.97L212.25,252.59L216.06,252.92L219.88,254.94L223.69,256.03L227.50,257.13L231.31,258.06L235.12,259.16L238.94,259.94L238.94,284.47L59.75,284.47Z" clip-path="url(#c4b)" fill="#9ccbc6"/>
<path d="M59.75,260.72L63.56,260.88L67.38,261.03L71.19,261.50L75.00,261.81L78.81,261.97L82.62,261.97L86.44,261.49L90.25,259.63L94.06,258.37L97.88,255.25L101.69,251.34L105.50,245.09L109.31,238.06L113.12,229.47L116.94,216.97L120.75,207.59L124.56,197.13L128.38,192.44L132.19,187.83L136.00,188.01L139.81,185.50L143.62,189.63L147.44,192.47L151.25,208.80L155.06,199.78L158.88,193.53L162.69,189.17L166.50,192.35L170.31,191.79L174.12,197.44L177.94,202.91L181.75,215.41L185.56,220.57L189.38,234.94L193.19,241.19L197.00,248.19L200.81,250.09L204.62,251.65L208.44,251.97L212.25,252.59L216.06,252.92L219.88,254.94L223.69,256.03L227.50,257.13L231.31,258.06L235.12,259.16L238.94,259.94" class="lt"/>
<path d="M59.75,262.59L63.56,262.59L67.38,262.75L71.19,262.75L75.00,262.75L78.81,262.75L82.62,262.59L86.44,262.13L90.25,261.50L94.06,260.41L97.88,259.16L101.69,257.13L105.50,255.23L109.31,249.00L113.12,242.75L116.94,231.81L120.75,216.97L124.56,206.81L128.38,199.78L132.19,195.92L136.00,195.39L139.81,193.26L143.62,197.12L147.44,198.74L151.25,211.10L155.06,206.81L158.88,202.91L162.69,197.63L166.50,199.00L170.31,200.29L174.12,206.81L177.94,210.73L181.75,218.53L185.56,225.56L189.38,240.41L193.19,245.88L197.00,249.78L200.81,252.13L204.62,254.45L208.44,254.79L212.25,256.19L216.06,256.81L219.88,258.06L223.69,259.00L227.50,259.94L231.31,260.72L235.12,261.50L238.94,262.28" class="lg"/>
</g>
<g>
<line x1="301.95" x2="309.75" y1="264.47" y2="264.47" class="t"/>
<text class="pc" transform="translate(290.25 269.87) scale(0.66 1)">%</text>
<text class="yl" transform="translate(289.65 269.87) scale(0.88 1)">0</text>
<line x1="301.95" x2="309.75" y1="240.97" y2="240.97" class="t"/>
<text class="pc" transform="translate(290.25 246.37) scale(0.66 1)">%</text>
<text class="yl" transform="translate(289.65 246.37) scale(0.88 1)"><tspan class="h">1</tspan></text>
<path class="one" d="M283.67,239.37L286.88,236.87L286.88,246.37"/>
<line x1="301.95" x2="309.75" y1="217.47" y2="217.47" class="t"/>
<text class="pc" transform="translate(290.25 222.87) scale(0.66 1)">%</text>
<text class="yl" transform="translate(289.65 222.87) scale(0.88 1)">2</text>
<line x1="301.95" x2="309.75" y1="193.97" y2="193.97" class="t"/>
<text class="pc" transform="translate(290.25 199.37) scale(0.66 1)">%</text>
<text class="yl" transform="translate(289.65 199.37) scale(0.88 1)">3</text>
<line x1="309.75" x2="309.75" y1="264.47" y2="271.47" class="t"/>
<text x="309.75" y="287.07" class="xl"><tspan class="h">1</tspan>2a</text>
<path class="one" d="M298.95,280.07L302.60,277.57L302.60,287.07"/>
<line x1="355.50" x2="355.50" y1="264.47" y2="271.47" class="t"/>
<text x="355.50" y="287.07" class="xl">6a</text>
<line x1="401.25" x2="401.25" y1="264.47" y2="271.47" class="t"/>
<text x="401.25" y="287.07" class="xl"><tspan class="h">1</tspan>2p</text>
<path class="one" d="M390.45,280.07L394.10,277.57L394.10,287.07"/>
<line x1="447.00" x2="447.00" y1="264.47" y2="271.47" class="t"/>
<text x="447.00" y="287.07" class="xl">6p</text>
<clipPath id="c5a"><path d="M309.75,261.50L313.56,258.95L317.38,260.71L321.19,261.50L325.00,262.59L328.81,262.75L332.62,262.76L336.44,264.30L340.25,264.31L344.06,264.31L347.88,264.31L351.69,264.00L355.50,263.84L359.31,263.00L363.12,255.25L366.94,243.53L370.75,227.91L374.56,219.31L378.38,213.07L382.19,210.51L386.00,211.78L389.81,206.37L393.62,205.14L397.44,211.50L401.25,217.92L405.06,215.87L408.88,211.24L412.69,210.87L416.50,219.74L420.31,221.39L424.12,232.66L427.94,230.96L431.75,235.63L435.56,235.47L439.38,238.72L443.19,237.28L447.00,235.48L450.81,236.94L454.62,236.19L458.44,236.19L462.25,236.97L466.06,238.58L469.88,249.67L473.69,250.11L477.50,252.42L481.31,252.98L485.12,259.07L488.94,259.16L488.94,144.47L309.75,144.47Z"/></clipPath>
<clipPath id="c5b"><path d="M309.75,254.47L313.56,261.16L317.38,262.74L321.19,262.75L325.00,263.38L328.81,264.00L332.62,264.31L336.44,264.31L340.25,263.69L344.06,263.53L347.88,263.84L351.69,264.30L355.50,263.75L359.31,254.47L363.12,247.44L366.94,235.72L370.75,224.00L374.56,209.94L378.38,198.22L382.19,191.97L386.00,185.04L389.81,185.01L393.62,190.10L397.44,203.69L401.25,211.16L405.06,206.88L408.88,206.81L412.69,206.52L416.50,219.06L420.31,218.47L424.12,231.49L427.94,234.97L431.75,232.06L435.56,241.14L439.38,242.36L443.19,239.94L447.00,236.19L450.81,233.05L454.62,226.06L458.44,229.25L462.25,226.92L466.06,228.69L469.88,231.02L473.69,231.88L477.50,241.18L481.31,244.31L485.12,247.44L488.94,251.03L488.94,144.47L309.75,144.47Z"/></clipPath>
<path d="M309.75,254.47L313.56,261.16L317.38,262.74L321.19,262.75L325.00,263.38L328.81,264.00L332.62,264.31L336.44,264.31L340.25,263.69L344.06,263.53L347.88,263.84L351.69,264.30L355.50,263.75L359.31,254.47L363.12,247.44L366.94,235.72L370.75,224.00L374.56,209.94L378.38,198.22L382.19,191.97L386.00,185.04L389.81,185.01L393.62,190.10L397.44,203.69L401.25,211.16L405.06,206.88L408.88,206.81L412.69,206.52L416.50,219.06L420.31,218.47L424.12,231.49L427.94,234.97L431.75,232.06L435.56,241.14L439.38,242.36L443.19,239.94L447.00,236.19L450.81,233.05L454.62,226.06L458.44,229.25L462.25,226.92L466.06,228.69L469.88,231.02L473.69,231.88L477.50,241.18L481.31,244.31L485.12,247.44L488.94,251.03L488.94,284.47L309.75,284.47Z" clip-path="url(#c5a)" fill="#d1be8b"/>
<path d="M309.75,261.50L313.56,258.95L317.38,260.71L321.19,261.50L325.00,262.59L328.81,262.75L332.62,262.76L336.44,264.30L340.25,264.31L344.06,264.31L347.88,264.31L351.69,264.00L355.50,263.84L359.31,263.00L363.12,255.25L366.94,243.53L370.75,227.91L374.56,219.31L378.38,213.07L382.19,210.51L386.00,211.78L389.81,206.37L393.62,205.14L397.44,211.50L401.25,217.92L405.06,215.87L408.88,211.24L412.69,210.87L416.50,219.74L420.31,221.39L424.12,232.66L427.94,230.96L431.75,235.63L435.56,235.47L439.38,238.72L443.19,237.28L447.00,235.48L450.81,236.94L454.62,236.19L458.44,236.19L462.25,236.97L466.06,238.58L469.88,249.67L473.69,250.11L477.50,252.42L481.31,252.98L485.12,259.07L488.94,259.16L488.94,284.47L309.75,284.47Z" clip-path="url(#c5b)" fill="#9ccbc6"/>
<path d="M309.75,261.50L313.56,258.95L317.38,260.71L321.19,261.50L325.00,262.59L328.81,262.75L332.62,262.76L336.44,264.30L340.25,264.31L344.06,264.31L347.88,264.31L351.69,264.00L355.50,263.84L359.31,263.00L363.12,255.25L366.94,243.53L370.75,227.91L374.56,219.31L378.38,213.07L382.19,210.51L386.00,211.78L389.81,206.37L393.62,205.14L397.44,211.50L401.25,217.92L405.06,215.87L408.88,211.24L412.69,210.87L416.50,219.74L420.31,221.39L424.12,232.66L427.94,230.96L431.75,235.63L435.56,235.47L439.38,238.72L443.19,237.28L447.00,235.48L450.81,236.94L454.62,236.19L458.44,236.19L462.25,236.97L466.06,238.58L469.88,249.67L473.69,250.11L477.50,252.42L481.31,252.98L485.12,259.07L488.94,259.16" class="lt"/>
<path d="M309.75,254.47L313.56,261.16L317.38,262.74L321.19,262.75L325.00,263.38L328.81,264.00L332.62,264.31L336.44,264.31L340.25,263.69L344.06,263.53L347.88,263.84L351.69,264.30L355.50,263.75L359.31,254.47L363.12,247.44L366.94,235.72L370.75,224.00L374.56,209.94L378.38,198.22L382.19,191.97L386.00,185.04L389.81,185.01L393.62,190.10L397.44,203.69L401.25,211.16L405.06,206.88L408.88,206.81L412.69,206.52L416.50,219.06L420.31,218.47L424.12,231.49L427.94,234.97L431.75,232.06L435.56,241.14L439.38,242.36L443.19,239.94L447.00,236.19L450.81,233.05L454.62,226.06L458.44,229.25L462.25,226.92L466.06,228.69L469.88,231.02L473.69,231.88L477.50,241.18L481.31,244.31L485.12,247.44L488.94,251.03" class="lg"/>
</g>
<g>
<line x1="551.95" x2="559.75" y1="264.47" y2="264.47" class="t"/>
<text class="pc" transform="translate(540.25 269.87) scale(0.66 1)">%</text>
<text class="yl" transform="translate(539.65 269.87) scale(0.88 1)">0</text>
<line x1="551.95" x2="559.75" y1="243.37" y2="243.37" class="t"/>
<text class="pc" transform="translate(540.25 248.77) scale(0.66 1)">%</text>
<text class="yl" transform="translate(539.65 248.77) scale(0.88 1)"><tspan class="h">1</tspan></text>
<path class="one" d="M533.67,241.77L536.88,239.27L536.88,248.77"/>
<line x1="551.95" x2="559.75" y1="222.27" y2="222.27" class="t"/>
<text class="pc" transform="translate(540.25 227.67) scale(0.66 1)">%</text>
<text class="yl" transform="translate(539.65 227.67) scale(0.88 1)">2</text>
<line x1="551.95" x2="559.75" y1="201.17" y2="201.17" class="t"/>
<text class="pc" transform="translate(540.25 206.57) scale(0.66 1)">%</text>
<text class="yl" transform="translate(539.65 206.57) scale(0.88 1)">3</text>
<line x1="559.75" x2="559.75" y1="264.47" y2="271.47" class="t"/>
<text x="559.75" y="287.07" class="xl"><tspan class="h">1</tspan>2a</text>
<path class="one" d="M548.95,280.07L552.60,277.57L552.60,287.07"/>
<line x1="605.50" x2="605.50" y1="264.47" y2="271.47" class="t"/>
<text x="605.50" y="287.07" class="xl">6a</text>
<line x1="651.25" x2="651.25" y1="264.47" y2="271.47" class="t"/>
<text x="651.25" y="287.07" class="xl"><tspan class="h">1</tspan>2p</text>
<path class="one" d="M640.45,280.07L644.10,277.57L644.10,287.07"/>
<line x1="697.00" x2="697.00" y1="264.47" y2="271.47" class="t"/>
<text x="697.00" y="287.07" class="xl">6p</text>
<clipPath id="c6a"><path d="M559.75,263.84L563.56,264.16L567.38,263.84L571.19,264.31L575.00,264.30L578.81,263.10L582.62,264.30L586.44,264.31L590.25,263.84L594.06,263.53L597.88,262.26L601.69,257.92L605.50,255.74L609.31,255.62L613.12,249.80L616.94,255.91L620.75,249.21L624.56,250.25L628.38,251.24L632.19,247.91L636.00,244.76L639.81,233.38L643.62,225.28L647.44,223.48L651.25,209.41L655.06,226.28L658.88,227.91L662.69,230.04L666.50,226.01L670.31,227.13L674.12,228.41L677.94,218.65L681.75,218.49L685.56,215.40L689.38,208.38L693.19,199.89L697.00,209.93L700.81,213.84L704.62,218.84L708.44,229.78L712.25,242.81L716.06,243.58L719.88,248.69L723.69,255.71L727.50,254.05L731.31,262.69L735.12,263.83L738.94,263.53L738.94,144.47L559.75,144.47Z"/></clipPath>
<clipPath id="c6b"><path d="M559.75,263.53L563.56,262.76L567.38,263.53L571.19,263.84L575.00,263.39L578.81,264.15L582.62,263.54L586.44,264.15L590.25,263.70L594.06,264.15L597.88,263.54L601.69,263.93L605.50,260.41L609.31,257.90L613.12,252.51L616.94,255.61L620.75,254.43L624.56,247.44L628.38,237.61L632.19,234.93L636.00,229.47L639.81,217.54L643.62,218.23L647.44,201.04L651.25,201.01L655.06,211.11L658.88,209.14L662.69,202.79L666.50,205.23L670.31,205.96L674.12,202.98L677.94,203.72L681.75,207.43L685.56,205.69L689.38,197.44L693.19,191.66L697.00,186.11L700.81,209.94L704.62,218.06L708.44,228.69L712.25,234.31L716.06,242.75L719.88,249.00L723.69,258.68L727.50,258.46L731.31,262.24L735.12,262.75L738.94,263.38L738.94,144.47L559.75,144.47Z"/></clipPath>
<path d="M559.75,263.53L563.56,262.76L567.38,263.53L571.19,263.84L575.00,263.39L578.81,264.15L582.62,263.54L586.44,264.15L590.25,263.70L594.06,264.15L597.88,263.54L601.69,263.93L605.50,260.41L609.31,257.90L613.12,252.51L616.94,255.61L620.75,254.43L624.56,247.44L628.38,237.61L632.19,234.93L636.00,229.47L639.81,217.54L643.62,218.23L647.44,201.04L651.25,201.01L655.06,211.11L658.88,209.14L662.69,202.79L666.50,205.23L670.31,205.96L674.12,202.98L677.94,203.72L681.75,207.43L685.56,205.69L689.38,197.44L693.19,191.66L697.00,186.11L700.81,209.94L704.62,218.06L708.44,228.69L712.25,234.31L716.06,242.75L719.88,249.00L723.69,258.68L727.50,258.46L731.31,262.24L735.12,262.75L738.94,263.38L738.94,284.47L559.75,284.47Z" clip-path="url(#c6a)" fill="#d1be8b"/>
<path d="M559.75,263.84L563.56,264.16L567.38,263.84L571.19,264.31L575.00,264.30L578.81,263.10L582.62,264.30L586.44,264.31L590.25,263.84L594.06,263.53L597.88,262.26L601.69,257.92L605.50,255.74L609.31,255.62L613.12,249.80L616.94,255.91L620.75,249.21L624.56,250.25L628.38,251.24L632.19,247.91L636.00,244.76L639.81,233.38L643.62,225.28L647.44,223.48L651.25,209.41L655.06,226.28L658.88,227.91L662.69,230.04L666.50,226.01L670.31,227.13L674.12,228.41L677.94,218.65L681.75,218.49L685.56,215.40L689.38,208.38L693.19,199.89L697.00,209.93L700.81,213.84L704.62,218.84L708.44,229.78L712.25,242.81L716.06,243.58L719.88,248.69L723.69,255.71L727.50,254.05L731.31,262.69L735.12,263.83L738.94,263.53L738.94,284.47L559.75,284.47Z" clip-path="url(#c6b)" fill="#9ccbc6"/>
<path d="M559.75,263.84L563.56,264.16L567.38,263.84L571.19,264.31L575.00,264.30L578.81,263.10L582.62,264.30L586.44,264.31L590.25,263.84L594.06,263.53L597.88,262.26L601.69,257.92L605.50,255.74L609.31,255.62L613.12,249.80L616.94,255.91L620.75,249.21L624.56,250.25L628.38,251.24L632.19,247.91L636.00,244.76L639.81,233.38L643.62,225.28L647.44,223.48L651.25,209.41L655.06,226.28L658.88,227.91L662.69,230.04L666.50,226.01L670.31,227.13L674.12,228.41L677.94,218.65L681.75,218.49L685.56,215.40L689.38,208.38L693.19,199.89L697.00,209.93L700.81,213.84L704.62,218.84L708.44,229.78L712.25,242.81L716.06,243.58L719.88,248.69L723.69,255.71L727.50,254.05L731.31,262.69L735.12,263.83L738.94,263.53" class="lt"/>
<path d="M559.75,263.53L563.56,262.76L567.38,263.53L571.19,263.84L575.00,263.39L578.81,264.15L582.62,263.54L586.44,264.15L590.25,263.70L594.06,264.15L597.88,263.54L601.69,263.93L605.50,260.41L609.31,257.90L613.12,252.51L616.94,255.61L620.75,254.43L624.56,247.44L628.38,237.61L632.19,234.93L636.00,229.47L639.81,217.54L643.62,218.23L647.44,201.04L651.25,201.01L655.06,211.11L658.88,209.14L662.69,202.79L666.50,205.23L670.31,205.96L674.12,202.98L677.94,203.72L681.75,207.43L685.56,205.69L689.38,197.44L693.19,191.66L697.00,186.11L700.81,209.94L704.62,218.06L708.44,228.69L712.25,234.31L716.06,242.75L719.88,249.00L723.69,258.68L727.50,258.46L731.31,262.24L735.12,262.75L738.94,263.38" class="lg"/>
</g>
<g>
<line x1="801.95" x2="809.75" y1="264.47" y2="264.47" class="t"/>
<text class="pc" transform="translate(790.25 269.87) scale(0.66 1)">%</text>
<text class="yl" transform="translate(789.65 269.87) scale(0.88 1)">0</text>
<line x1="801.95" x2="809.75" y1="251.81" y2="251.81" class="t"/>
<line x1="801.95" x2="809.75" y1="239.17" y2="239.17" class="t"/>
<line x1="801.95" x2="809.75" y1="226.50" y2="226.50" class="t"/>
<line x1="801.95" x2="809.75" y1="213.87" y2="213.87" class="t"/>
<line x1="801.95" x2="809.75" y1="201.17" y2="201.17" class="t"/>
<text class="pc" transform="translate(790.25 206.57) scale(0.66 1)">%</text>
<text class="yl" transform="translate(789.65 206.57) scale(0.88 1)"><tspan class="h">1</tspan></text>
<path class="one" d="M783.67,199.57L786.88,197.07L786.88,206.57"/>
<line x1="801.95" x2="809.75" y1="188.57" y2="188.57" class="t"/>
<line x1="809.75" x2="809.75" y1="264.47" y2="271.47" class="t"/>
<text x="809.75" y="287.07" class="xl"><tspan class="h">1</tspan>2a</text>
<path class="one" d="M798.95,280.07L802.60,277.57L802.60,287.07"/>
<line x1="855.50" x2="855.50" y1="264.47" y2="271.47" class="t"/>
<text x="855.50" y="287.07" class="xl">6a</text>
<line x1="901.25" x2="901.25" y1="264.47" y2="271.47" class="t"/>
<text x="901.25" y="287.07" class="xl"><tspan class="h">1</tspan>2p</text>
<path class="one" d="M890.45,280.07L894.10,277.57L894.10,287.07"/>
<line x1="947.00" x2="947.00" y1="264.47" y2="271.47" class="t"/>
<text x="947.00" y="287.07" class="xl">6p</text>
<clipPath id="c7a"><path d="M809.75,263.06L813.56,263.06L817.38,263.04L821.19,261.01L825.00,255.82L828.81,260.95L832.62,261.03L836.44,261.07L840.25,264.27L844.06,264.31L847.88,264.31L851.69,264.24L855.50,259.34L859.31,260.51L863.12,254.47L866.94,244.17L870.75,251.84L874.56,245.09L878.38,231.81L882.19,211.03L886.00,204.97L889.81,219.29L893.62,222.46L897.44,238.55L901.25,237.60L905.06,237.46L908.88,227.87L912.69,234.15L916.50,237.29L920.31,243.54L924.12,237.28L927.94,229.13L931.75,236.77L935.56,229.54L939.38,242.74L943.19,246.66L947.00,249.79L950.81,258.33L954.62,259.59L958.44,258.54L962.25,263.58L966.06,261.58L969.88,263.05L973.69,263.06L977.50,263.06L981.31,263.38L985.12,263.38L988.94,263.38L988.94,144.47L809.75,144.47Z"/></clipPath>
<clipPath id="c7b"><path d="M809.75,264.31L813.56,264.31L817.38,264.31L821.19,264.31L825.00,264.31L828.81,264.31L832.62,264.31L836.44,264.31L840.25,264.31L844.06,264.31L847.88,264.31L851.69,264.25L855.50,259.94L859.31,257.34L863.12,257.87L866.94,248.22L870.75,227.91L874.56,211.50L878.38,195.09L882.19,186.21L886.00,198.22L889.81,203.39L893.62,201.31L897.44,210.03L901.25,206.65L905.06,214.06L908.88,212.76L912.69,212.29L916.50,212.99L920.31,210.33L924.12,216.34L927.94,211.63L931.75,212.09L935.56,203.49L939.38,213.06L943.19,225.56L947.00,236.48L950.81,239.61L954.62,240.49L958.44,252.13L962.25,260.22L966.06,262.25L969.88,261.81L973.69,261.20L977.50,261.97L981.31,263.06L985.12,264.30L988.94,264.31L988.94,144.47L809.75,144.47Z"/></clipPath>
<path d="M809.75,264.31L813.56,264.31L817.38,264.31L821.19,264.31L825.00,264.31L828.81,264.31L832.62,264.31L836.44,264.31L840.25,264.31L844.06,264.31L847.88,264.31L851.69,264.25L855.50,259.94L859.31,257.34L863.12,257.87L866.94,248.22L870.75,227.91L874.56,211.50L878.38,195.09L882.19,186.21L886.00,198.22L889.81,203.39L893.62,201.31L897.44,210.03L901.25,206.65L905.06,214.06L908.88,212.76L912.69,212.29L916.50,212.99L920.31,210.33L924.12,216.34L927.94,211.63L931.75,212.09L935.56,203.49L939.38,213.06L943.19,225.56L947.00,236.48L950.81,239.61L954.62,240.49L958.44,252.13L962.25,260.22L966.06,262.25L969.88,261.81L973.69,261.20L977.50,261.97L981.31,263.06L985.12,264.30L988.94,264.31L988.94,284.47L809.75,284.47Z" clip-path="url(#c7a)" fill="#d1be8b"/>
<path d="M809.75,263.06L813.56,263.06L817.38,263.04L821.19,261.01L825.00,255.82L828.81,260.95L832.62,261.03L836.44,261.07L840.25,264.27L844.06,264.31L847.88,264.31L851.69,264.24L855.50,259.34L859.31,260.51L863.12,254.47L866.94,244.17L870.75,251.84L874.56,245.09L878.38,231.81L882.19,211.03L886.00,204.97L889.81,219.29L893.62,222.46L897.44,238.55L901.25,237.60L905.06,237.46L908.88,227.87L912.69,234.15L916.50,237.29L920.31,243.54L924.12,237.28L927.94,229.13L931.75,236.77L935.56,229.54L939.38,242.74L943.19,246.66L947.00,249.79L950.81,258.33L954.62,259.59L958.44,258.54L962.25,263.58L966.06,261.58L969.88,263.05L973.69,263.06L977.50,263.06L981.31,263.38L985.12,263.38L988.94,263.38L988.94,284.47L809.75,284.47Z" clip-path="url(#c7b)" fill="#9ccbc6"/>
<path d="M809.75,263.06L813.56,263.06L817.38,263.04L821.19,261.01L825.00,255.82L828.81,260.95L832.62,261.03L836.44,261.07L840.25,264.27L844.06,264.31L847.88,264.31L851.69,264.24L855.50,259.34L859.31,260.51L863.12,254.47L866.94,244.17L870.75,251.84L874.56,245.09L878.38,231.81L882.19,211.03L886.00,204.97L889.81,219.29L893.62,222.46L897.44,238.55L901.25,237.60L905.06,237.46L908.88,227.87L912.69,234.15L916.50,237.29L920.31,243.54L924.12,237.28L927.94,229.13L931.75,236.77L935.56,229.54L939.38,242.74L943.19,246.66L947.00,249.79L950.81,258.33L954.62,259.59L958.44,258.54L962.25,263.58L966.06,261.58L969.88,263.05L973.69,263.06L977.50,263.06L981.31,263.38L985.12,263.38L988.94,263.38" class="lt"/>
<path d="M809.75,264.31L813.56,264.31L817.38,264.31L821.19,264.31L825.00,264.31L828.81,264.31L832.62,264.31L836.44,264.31L840.25,264.31L844.06,264.31L847.88,264.31L851.69,264.25L855.50,259.94L859.31,257.34L863.12,257.87L866.94,248.22L870.75,227.91L874.56,211.50L878.38,195.09L882.19,186.21L886.00,198.22L889.81,203.39L893.62,201.31L897.44,210.03L901.25,206.65L905.06,214.06L908.88,212.76L912.69,212.29L916.50,212.99L920.31,210.33L924.12,216.34L927.94,211.63L931.75,212.09L935.56,203.49L939.38,213.06L943.19,225.56L947.00,236.48L950.81,239.61L954.62,240.49L958.44,252.13L962.25,260.22L966.06,262.25L969.88,261.81L973.69,261.20L977.50,261.97L981.31,263.06L985.12,264.30L988.94,264.31" class="lg"/>
</g>
<g>
<line x1="51.95" x2="59.75" y1="420.64" y2="420.64" class="t"/>
<text class="pc" transform="translate(40.25 426.04) scale(0.66 1)">%</text>
<text class="yl" transform="translate(39.65 426.04) scale(0.88 1)">0</text>
<line x1="51.95" x2="59.75" y1="403.29" y2="403.29" class="t"/>
<text class="pc" transform="translate(40.25 408.69) scale(0.66 1)">%</text>
<text class="yl" transform="translate(39.65 408.69) scale(0.88 1)"><tspan class="h">1</tspan>0</text>
<path class="one" d="M26.63,401.69L29.84,399.19L29.84,408.69"/>
<line x1="51.95" x2="59.75" y1="385.94" y2="385.94" class="t"/>
<text class="pc" transform="translate(40.25 391.34) scale(0.66 1)">%</text>
<text class="yl" transform="translate(39.65 391.34) scale(0.88 1)">20</text>
<line x1="51.95" x2="59.75" y1="368.59" y2="368.59" class="t"/>
<text class="pc" transform="translate(40.25 373.99) scale(0.66 1)">%</text>
<text class="yl" transform="translate(39.65 373.99) scale(0.88 1)">30</text>
<line x1="51.95" x2="59.75" y1="351.24" y2="351.24" class="t"/>
<text class="pc" transform="translate(40.25 356.64) scale(0.66 1)">%</text>
<text class="yl" transform="translate(39.65 356.64) scale(0.88 1)">40</text>
<line x1="59.75" x2="59.75" y1="420.64" y2="427.64" class="t"/>
<text x="59.75" y="443.24" class="xl"><tspan class="h">1</tspan>2a</text>
<path class="one" d="M48.95,436.24L52.60,433.74L52.60,443.24"/>
<line x1="105.50" x2="105.50" y1="420.64" y2="427.64" class="t"/>
<text x="105.50" y="443.24" class="xl">6a</text>
<line x1="151.25" x2="151.25" y1="420.64" y2="427.64" class="t"/>
<text x="151.25" y="443.24" class="xl"><tspan class="h">1</tspan>2p</text>
<path class="one" d="M140.45,436.24L144.10,433.74L144.10,443.24"/>
<line x1="197.00" x2="197.00" y1="420.64" y2="427.64" class="t"/>
<text x="197.00" y="443.24" class="xl">6p</text>
<clipPath id="c8a"><path d="M59.75,410.78L63.56,412.81L67.38,415.14L71.19,415.63L75.00,416.72L78.81,417.66L82.62,417.97L86.44,417.97L90.25,417.19L94.06,416.41L97.88,415.16L101.69,414.38L105.50,413.59L109.31,413.28L113.12,412.50L116.94,412.03L120.75,411.25L124.56,410.00L128.38,408.16L132.19,408.58L136.00,408.14L139.81,408.59L143.62,409.66L147.44,408.59L151.25,407.80L155.06,405.33L158.88,405.00L162.69,404.22L166.50,402.98L170.31,402.94L174.12,400.31L177.94,398.27L181.75,393.75L185.56,389.08L189.38,387.78L193.19,382.34L197.00,375.31L200.81,365.94L204.62,357.34L208.44,347.98L212.25,344.84L216.06,341.45L219.88,348.75L223.69,355.00L227.50,374.53L231.31,385.47L235.12,397.19L238.94,402.66L238.94,300.64L59.75,300.64Z"/></clipPath>
<clipPath id="c8b"><path d="M59.75,411.25L63.56,414.06L67.38,416.39L71.19,416.72L75.00,417.97L78.81,418.59L82.62,418.59L86.44,418.44L90.25,417.81L94.06,417.50L97.88,416.72L101.69,415.63L105.50,414.69L109.31,414.06L113.12,413.59L116.94,412.35L120.75,412.34L124.56,411.56L128.38,410.02L132.19,410.16L136.00,409.69L139.81,408.59L143.62,408.13L147.44,408.13L151.25,407.65L155.06,406.13L158.88,407.01L162.69,406.25L166.50,405.32L170.31,405.30L174.12,404.22L177.94,402.34L181.75,399.53L185.56,395.63L189.38,392.50L193.19,387.81L197.00,382.34L200.81,375.78L204.62,368.28L208.44,360.94L212.25,356.25L216.06,351.04L219.88,358.13L223.69,364.38L227.50,380.00L231.31,389.38L235.12,398.75L238.94,403.91L238.94,300.64L59.75,300.64Z"/></clipPath>
<path d="M59.75,411.25L63.56,414.06L67.38,416.39L71.19,416.72L75.00,417.97L78.81,418.59L82.62,418.59L86.44,418.44L90.25,417.81L94.06,417.50L97.88,416.72L101.69,415.63L105.50,414.69L109.31,414.06L113.12,413.59L116.94,412.35L120.75,412.34L124.56,411.56L128.38,410.02L132.19,410.16L136.00,409.69L139.81,408.59L143.62,408.13L147.44,408.13L151.25,407.65L155.06,406.13L158.88,407.01L162.69,406.25L166.50,405.32L170.31,405.30L174.12,404.22L177.94,402.34L181.75,399.53L185.56,395.63L189.38,392.50L193.19,387.81L197.00,382.34L200.81,375.78L204.62,368.28L208.44,360.94L212.25,356.25L216.06,351.04L219.88,358.13L223.69,364.38L227.50,380.00L231.31,389.38L235.12,398.75L238.94,403.91L238.94,440.64L59.75,440.64Z" clip-path="url(#c8a)" fill="#d1be8b"/>
<path d="M59.75,410.78L63.56,412.81L67.38,415.14L71.19,415.63L75.00,416.72L78.81,417.66L82.62,417.97L86.44,417.97L90.25,417.19L94.06,416.41L97.88,415.16L101.69,414.38L105.50,413.59L109.31,413.28L113.12,412.50L116.94,412.03L120.75,411.25L124.56,410.00L128.38,408.16L132.19,408.58L136.00,408.14L139.81,408.59L143.62,409.66L147.44,408.59L151.25,407.80L155.06,405.33L158.88,405.00L162.69,404.22L166.50,402.98L170.31,402.94L174.12,400.31L177.94,398.27L181.75,393.75L185.56,389.08L189.38,387.78L193.19,382.34L197.00,375.31L200.81,365.94L204.62,357.34L208.44,347.98L212.25,344.84L216.06,341.45L219.88,348.75L223.69,355.00L227.50,374.53L231.31,385.47L235.12,397.19L238.94,402.66L238.94,440.64L59.75,440.64Z" clip-path="url(#c8b)" fill="#9ccbc6"/>
<path d="M59.75,410.78L63.56,412.81L67.38,415.14L71.19,415.63L75.00,416.72L78.81,417.66L82.62,417.97L86.44,417.97L90.25,417.19L94.06,416.41L97.88,415.16L101.69,414.38L105.50,413.59L109.31,413.28L113.12,412.50L116.94,412.03L120.75,411.25L124.56,410.00L128.38,408.16L132.19,408.58L136.00,408.14L139.81,408.59L143.62,409.66L147.44,408.59L151.25,407.80L155.06,405.33L158.88,405.00L162.69,404.22L166.50,402.98L170.31,402.94L174.12,400.31L177.94,398.27L181.75,393.75L185.56,389.08L189.38,387.78L193.19,382.34L197.00,375.31L200.81,365.94L204.62,357.34L208.44,347.98L212.25,344.84L216.06,341.45L219.88,348.75L223.69,355.00L227.50,374.53L231.31,385.47L235.12,397.19L238.94,402.66" class="lt"/>
<path d="M59.75,411.25L63.56,414.06L67.38,416.39L71.19,416.72L75.00,417.97L78.81,418.59L82.62,418.59L86.44,418.44L90.25,417.81L94.06,417.50L97.88,416.72L101.69,415.63L105.50,414.69L109.31,414.06L113.12,413.59L116.94,412.35L120.75,412.34L124.56,411.56L128.38,410.02L132.19,410.16L136.00,409.69L139.81,408.59L143.62,408.13L147.44,408.13L151.25,407.65L155.06,406.13L158.88,407.01L162.69,406.25L166.50,405.32L170.31,405.30L174.12,404.22L177.94,402.34L181.75,399.53L185.56,395.63L189.38,392.50L193.19,387.81L197.00,382.34L200.81,375.78L204.62,368.28L208.44,360.94L212.25,356.25L216.06,351.04L219.88,358.13L223.69,364.38L227.50,380.00L231.31,389.38L235.12,398.75L238.94,403.91" class="lg"/>
</g>
<g>
<line x1="301.95" x2="309.75" y1="420.64" y2="420.64" class="t"/>
<text class="pc" transform="translate(290.25 426.04) scale(0.66 1)">%</text>
<text class="yl" transform="translate(289.65 426.04) scale(0.88 1)">0</text>
<line x1="301.95" x2="309.75" y1="393.74" y2="393.74" class="t"/>
<text class="pc" transform="translate(290.25 399.14) scale(0.66 1)">%</text>
<text class="yl" transform="translate(289.65 399.14) scale(0.88 1)"><tspan class="h">1</tspan></text>
<path class="one" d="M283.67,392.14L286.88,389.64L286.88,399.14"/>
<line x1="301.95" x2="309.75" y1="366.84" y2="366.84" class="t"/>
<text class="pc" transform="translate(290.25 372.24) scale(0.66 1)">%</text>
<text class="yl" transform="translate(289.65 372.24) scale(0.88 1)">2</text>
<line x1="309.75" x2="309.75" y1="420.64" y2="427.64" class="t"/>
<text x="309.75" y="443.24" class="xl"><tspan class="h">1</tspan>2a</text>
<path class="one" d="M298.95,436.24L302.60,433.74L302.60,443.24"/>
<line x1="355.50" x2="355.50" y1="420.64" y2="427.64" class="t"/>
<text x="355.50" y="443.24" class="xl">6a</text>
<line x1="401.25" x2="401.25" y1="420.64" y2="427.64" class="t"/>
<text x="401.25" y="443.24" class="xl"><tspan class="h">1</tspan>2p</text>
<path class="one" d="M390.45,436.24L394.10,433.74L394.10,443.24"/>
<line x1="447.00" x2="447.00" y1="420.64" y2="427.64" class="t"/>
<text x="447.00" y="443.24" class="xl">6p</text>
<clipPath id="c9a"><path d="M309.75,414.38L313.56,418.72L317.38,419.83L321.19,419.84L325.00,420.15L328.81,419.54L332.62,419.82L336.44,418.24L340.25,408.13L344.06,403.43L347.88,390.16L351.69,380.79L355.50,376.92L359.31,383.10L363.12,384.45L366.94,377.68L370.75,383.59L374.56,388.39L378.38,386.77L382.19,387.80L386.00,387.37L389.81,389.39L393.62,393.66L397.44,393.19L401.25,384.06L405.06,386.72L408.88,389.06L412.69,392.00L416.50,389.57L420.31,392.00L424.12,381.56L427.94,376.56L431.75,367.04L435.56,363.59L439.38,360.00L443.19,354.75L447.00,354.15L450.81,347.19L454.62,341.49L458.44,343.32L462.25,360.94L466.06,370.63L469.88,386.25L473.69,397.19L477.50,403.08L481.31,400.82L485.12,411.19L488.94,409.38L488.94,300.64L309.75,300.64Z"/></clipPath>
<clipPath id="c9b"><path d="M309.75,420.31L313.56,420.30L317.38,419.06L321.19,418.00L325.00,419.05L328.81,419.07L332.62,420.29L336.44,419.48L340.25,413.59L344.06,402.66L347.88,396.41L351.69,388.59L355.50,384.32L359.31,387.89L363.12,379.99L366.94,391.43L370.75,388.61L374.56,387.75L378.38,381.55L382.19,387.81L386.00,397.19L389.81,402.47L393.62,401.25L397.44,404.95L401.25,398.75L405.06,400.53L408.88,395.63L412.69,392.00L416.50,399.49L420.31,394.06L424.12,387.50L427.94,381.97L431.75,387.73L435.56,380.78L439.38,371.88L443.19,363.59L447.00,354.68L450.81,354.99L454.62,354.68L458.44,362.81L462.25,385.47L466.06,393.28L469.88,401.87L473.69,405.79L477.50,414.77L481.31,415.64L485.12,417.80L488.94,418.59L488.94,300.64L309.75,300.64Z"/></clipPath>
<path d="M309.75,420.31L313.56,420.30L317.38,419.06L321.19,418.00L325.00,419.05L328.81,419.07L332.62,420.29L336.44,419.48L340.25,413.59L344.06,402.66L347.88,396.41L351.69,388.59L355.50,384.32L359.31,387.89L363.12,379.99L366.94,391.43L370.75,388.61L374.56,387.75L378.38,381.55L382.19,387.81L386.00,397.19L389.81,402.47L393.62,401.25L397.44,404.95L401.25,398.75L405.06,400.53L408.88,395.63L412.69,392.00L416.50,399.49L420.31,394.06L424.12,387.50L427.94,381.97L431.75,387.73L435.56,380.78L439.38,371.88L443.19,363.59L447.00,354.68L450.81,354.99L454.62,354.68L458.44,362.81L462.25,385.47L466.06,393.28L469.88,401.87L473.69,405.79L477.50,414.77L481.31,415.64L485.12,417.80L488.94,418.59L488.94,440.64L309.75,440.64Z" clip-path="url(#c9a)" fill="#d1be8b"/>
<path d="M309.75,414.38L313.56,418.72L317.38,419.83L321.19,419.84L325.00,420.15L328.81,419.54L332.62,419.82L336.44,418.24L340.25,408.13L344.06,403.43L347.88,390.16L351.69,380.79L355.50,376.92L359.31,383.10L363.12,384.45L366.94,377.68L370.75,383.59L374.56,388.39L378.38,386.77L382.19,387.80L386.00,387.37L389.81,389.39L393.62,393.66L397.44,393.19L401.25,384.06L405.06,386.72L408.88,389.06L412.69,392.00L416.50,389.57L420.31,392.00L424.12,381.56L427.94,376.56L431.75,367.04L435.56,363.59L439.38,360.00L443.19,354.75L447.00,354.15L450.81,347.19L454.62,341.49L458.44,343.32L462.25,360.94L466.06,370.63L469.88,386.25L473.69,397.19L477.50,403.08L481.31,400.82L485.12,411.19L488.94,409.38L488.94,440.64L309.75,440.64Z" clip-path="url(#c9b)" fill="#9ccbc6"/>
<path d="M309.75,414.38L313.56,418.72L317.38,419.83L321.19,419.84L325.00,420.15L328.81,419.54L332.62,419.82L336.44,418.24L340.25,408.13L344.06,403.43L347.88,390.16L351.69,380.79L355.50,376.92L359.31,383.10L363.12,384.45L366.94,377.68L370.75,383.59L374.56,388.39L378.38,386.77L382.19,387.80L386.00,387.37L389.81,389.39L393.62,393.66L397.44,393.19L401.25,384.06L405.06,386.72L408.88,389.06L412.69,392.00L416.50,389.57L420.31,392.00L424.12,381.56L427.94,376.56L431.75,367.04L435.56,363.59L439.38,360.00L443.19,354.75L447.00,354.15L450.81,347.19L454.62,341.49L458.44,343.32L462.25,360.94L466.06,370.63L469.88,386.25L473.69,397.19L477.50,403.08L481.31,400.82L485.12,411.19L488.94,409.38" class="lt"/>
<path d="M309.75,420.31L313.56,420.30L317.38,419.06L321.19,418.00L325.00,419.05L328.81,419.07L332.62,420.29L336.44,419.48L340.25,413.59L344.06,402.66L347.88,396.41L351.69,388.59L355.50,384.32L359.31,387.89L363.12,379.99L366.94,391.43L370.75,388.61L374.56,387.75L378.38,381.55L382.19,387.81L386.00,397.19L389.81,402.47L393.62,401.25L397.44,404.95L401.25,398.75L405.06,400.53L408.88,395.63L412.69,392.00L416.50,399.49L420.31,394.06L424.12,387.50L427.94,381.97L431.75,387.73L435.56,380.78L439.38,371.88L443.19,363.59L447.00,354.68L450.81,354.99L454.62,354.68L458.44,362.81L462.25,385.47L466.06,393.28L469.88,401.87L473.69,405.79L477.50,414.77L481.31,415.64L485.12,417.80L488.94,418.59" class="lg"/>
</g>
<g>
<line x1="551.95" x2="559.75" y1="420.64" y2="420.64" class="t"/>
<text class="pc" transform="translate(540.25 426.04) scale(0.66 1)">%</text>
<text class="yl" transform="translate(539.65 426.04) scale(0.88 1)">0</text>
<line x1="551.95" x2="559.75" y1="406.24" y2="406.24" class="t"/>
<line x1="551.95" x2="559.75" y1="391.89" y2="391.89" class="t"/>
<line x1="551.95" x2="559.75" y1="377.54" y2="377.54" class="t"/>
<line x1="551.95" x2="559.75" y1="363.14" y2="363.14" class="t"/>
<line x1="551.95" x2="559.75" y1="348.74" y2="348.74" class="t"/>
<text class="pc" transform="translate(540.25 354.14) scale(0.66 1)">%</text>
<text class="yl" transform="translate(539.65 354.14) scale(0.88 1)"><tspan class="h">1</tspan></text>
<path class="one" d="M533.67,347.14L536.88,344.64L536.88,354.14"/>
<line x1="559.75" x2="559.75" y1="420.64" y2="427.64" class="t"/>
<text x="559.75" y="443.24" class="xl"><tspan class="h">1</tspan>2a</text>
<path class="one" d="M548.95,436.24L552.60,433.74L552.60,443.24"/>
<line x1="605.50" x2="605.50" y1="420.64" y2="427.64" class="t"/>
<text x="605.50" y="443.24" class="xl">6a</text>
<line x1="651.25" x2="651.25" y1="420.64" y2="427.64" class="t"/>
<text x="651.25" y="443.24" class="xl"><tspan class="h">1</tspan>2p</text>
<path class="one" d="M640.45,436.24L644.10,433.74L644.10,443.24"/>
<line x1="697.00" x2="697.00" y1="420.64" y2="427.64" class="t"/>
<text x="697.00" y="443.24" class="xl">6p</text>
<clipPath id="c10a"><path d="M559.75,415.63L563.56,417.81L567.38,419.38L571.19,420.30L575.00,420.31L578.81,420.26L582.62,416.85L586.44,418.25L590.25,417.50L594.06,415.89L597.88,403.45L601.69,399.62L605.50,406.77L609.31,406.74L613.12,396.08L616.94,403.13L620.75,408.91L624.56,415.67L628.38,407.07L632.19,407.71L636.00,412.97L639.81,410.63L643.62,412.96L647.44,410.55L651.25,417.06L655.06,414.05L658.88,404.41L662.69,404.89L666.50,400.89L670.31,407.78L674.12,409.69L677.94,411.71L681.75,412.31L685.56,410.78L689.38,409.93L693.19,401.09L697.00,393.28L700.81,371.41L704.62,360.47L708.44,354.34L712.25,379.92L716.06,381.33L719.88,402.30L723.69,401.37L727.50,410.91L731.31,412.73L735.12,410.97L738.94,411.25L738.94,300.64L559.75,300.64Z"/></clipPath>
<clipPath id="c10b"><path d="M559.75,415.16L563.56,413.48L567.38,418.21L571.19,418.28L575.00,417.82L578.81,418.27L582.62,417.49L586.44,414.81L590.25,400.34L594.06,406.74L597.88,395.63L601.69,385.27L605.50,384.98L609.31,383.26L613.12,401.39L616.94,404.43L620.75,403.15L624.56,403.81L628.38,410.46L632.19,413.27L636.00,414.59L639.81,411.71L643.62,404.76L647.44,406.09L651.25,408.72L655.06,405.87L658.88,406.86L662.69,406.21L666.50,410.91L670.31,412.03L674.12,413.27L677.94,413.28L681.75,413.24L685.56,410.00L689.38,405.78L693.19,398.75L697.00,393.27L700.81,373.75L704.62,349.53L708.44,342.15L712.25,356.56L716.06,365.16L719.88,386.00L723.69,375.79L727.50,392.50L731.31,403.00L735.12,403.14L738.94,404.69L738.94,300.64L559.75,300.64Z"/></clipPath>
<path d="M559.75,415.16L563.56,413.48L567.38,418.21L571.19,418.28L575.00,417.82L578.81,418.27L582.62,417.49L586.44,414.81L590.25,400.34L594.06,406.74L597.88,395.63L601.69,385.27L605.50,384.98L609.31,383.26L613.12,401.39L616.94,404.43L620.75,403.15L624.56,403.81L628.38,410.46L632.19,413.27L636.00,414.59L639.81,411.71L643.62,404.76L647.44,406.09L651.25,408.72L655.06,405.87L658.88,406.86L662.69,406.21L666.50,410.91L670.31,412.03L674.12,413.27L677.94,413.28L681.75,413.24L685.56,410.00L689.38,405.78L693.19,398.75L697.00,393.27L700.81,373.75L704.62,349.53L708.44,342.15L712.25,356.56L716.06,365.16L719.88,386.00L723.69,375.79L727.50,392.50L731.31,403.00L735.12,403.14L738.94,404.69L738.94,440.64L559.75,440.64Z" clip-path="url(#c10a)" fill="#d1be8b"/>
<path d="M559.75,415.63L563.56,417.81L567.38,419.38L571.19,420.30L575.00,420.31L578.81,420.26L582.62,416.85L586.44,418.25L590.25,417.50L594.06,415.89L597.88,403.45L601.69,399.62L605.50,406.77L609.31,406.74L613.12,396.08L616.94,403.13L620.75,408.91L624.56,415.67L628.38,407.07L632.19,407.71L636.00,412.97L639.81,410.63L643.62,412.96L647.44,410.55L651.25,417.06L655.06,414.05L658.88,404.41L662.69,404.89L666.50,400.89L670.31,407.78L674.12,409.69L677.94,411.71L681.75,412.31L685.56,410.78L689.38,409.93L693.19,401.09L697.00,393.28L700.81,371.41L704.62,360.47L708.44,354.34L712.25,379.92L716.06,381.33L719.88,402.30L723.69,401.37L727.50,410.91L731.31,412.73L735.12,410.97L738.94,411.25L738.94,440.64L559.75,440.64Z" clip-path="url(#c10b)" fill="#9ccbc6"/>
<path d="M559.75,415.63L563.56,417.81L567.38,419.38L571.19,420.30L575.00,420.31L578.81,420.26L582.62,416.85L586.44,418.25L590.25,417.50L594.06,415.89L597.88,403.45L601.69,399.62L605.50,406.77L609.31,406.74L613.12,396.08L616.94,403.13L620.75,408.91L624.56,415.67L628.38,407.07L632.19,407.71L636.00,412.97L639.81,410.63L643.62,412.96L647.44,410.55L651.25,417.06L655.06,414.05L658.88,404.41L662.69,404.89L666.50,400.89L670.31,407.78L674.12,409.69L677.94,411.71L681.75,412.31L685.56,410.78L689.38,409.93L693.19,401.09L697.00,393.28L700.81,371.41L704.62,360.47L708.44,354.34L712.25,379.92L716.06,381.33L719.88,402.30L723.69,401.37L727.50,410.91L731.31,412.73L735.12,410.97L738.94,411.25" class="lt"/>
<path d="M559.75,415.16L563.56,413.48L567.38,418.21L571.19,418.28L575.00,417.82L578.81,418.27L582.62,417.49L586.44,414.81L590.25,400.34L594.06,406.74L597.88,395.63L601.69,385.27L605.50,384.98L609.31,383.26L613.12,401.39L616.94,404.43L620.75,403.15L624.56,403.81L628.38,410.46L632.19,413.27L636.00,414.59L639.81,411.71L643.62,404.76L647.44,406.09L651.25,408.72L655.06,405.87L658.88,406.86L662.69,406.21L666.50,410.91L670.31,412.03L674.12,413.27L677.94,413.28L681.75,413.24L685.56,410.00L689.38,405.78L693.19,398.75L697.00,393.27L700.81,373.75L704.62,349.53L708.44,342.15L712.25,356.56L716.06,365.16L719.88,386.00L723.69,375.79L727.50,392.50L731.31,403.00L735.12,403.14L738.94,404.69" class="lg"/>
</g>
<g>
<line x1="801.95" x2="809.75" y1="420.64" y2="420.64" class="t"/>
<text class="pc" transform="translate(790.25 426.04) scale(0.66 1)">%</text>
<text class="yl" transform="translate(789.65 426.04) scale(0.88 1)">0</text>
<line x1="801.95" x2="809.75" y1="405.84" y2="405.84" class="t"/>
<line x1="801.95" x2="809.75" y1="391.04" y2="391.04" class="t"/>
<line x1="801.95" x2="809.75" y1="376.24" y2="376.24" class="t"/>
<line x1="801.95" x2="809.75" y1="361.34" y2="361.34" class="t"/>
<line x1="801.95" x2="809.75" y1="346.54" y2="346.54" class="t"/>
<text class="pc" transform="translate(790.25 351.94) scale(0.66 1)">%</text>
<text class="yl" transform="translate(789.65 351.94) scale(0.88 1)"><tspan class="h">1</tspan></text>
<path class="one" d="M783.67,344.94L786.88,342.44L786.88,351.94"/>
<line x1="809.75" x2="809.75" y1="420.64" y2="427.64" class="t"/>
<text x="809.75" y="443.24" class="xl"><tspan class="h">1</tspan>2a</text>
<path class="one" d="M798.95,436.24L802.60,433.74L802.60,443.24"/>
<line x1="855.50" x2="855.50" y1="420.64" y2="427.64" class="t"/>
<text x="855.50" y="443.24" class="xl">6a</text>
<line x1="901.25" x2="901.25" y1="420.64" y2="427.64" class="t"/>
<text x="901.25" y="443.24" class="xl"><tspan class="h">1</tspan>2p</text>
<path class="one" d="M890.45,436.24L894.10,433.74L894.10,443.24"/>
<line x1="947.00" x2="947.00" y1="420.64" y2="427.64" class="t"/>
<text x="947.00" y="443.24" class="xl">6p</text>
<clipPath id="c11a"><path d="M809.75,420.31L813.56,420.31L817.38,420.31L821.19,420.31L825.00,420.31L828.81,420.31L832.62,420.31L836.44,420.31L840.25,420.31L844.06,420.29L847.88,418.34L851.69,419.48L855.50,418.00L859.31,418.73L863.12,417.52L866.94,417.92L870.75,415.16L874.56,411.58L878.38,410.78L882.19,409.19L886.00,403.71L889.81,405.78L893.62,408.27L897.44,402.90L901.25,404.47L905.06,399.59L908.88,399.26L912.69,401.68L916.50,398.54L920.31,401.87L924.12,403.56L927.94,393.57L931.75,394.84L935.56,396.97L939.38,379.22L943.19,361.26L947.00,357.33L950.81,349.31L954.62,359.69L958.44,372.19L962.25,378.75L966.06,383.92L969.88,403.44L973.69,409.69L977.50,413.59L981.31,416.41L985.12,419.05L988.94,420.31L988.94,300.64L809.75,300.64Z"/></clipPath>
<clipPath id="c11b"><path d="M809.75,420.31L813.56,420.31L817.38,419.84L821.19,419.69L825.00,419.06L828.81,419.06L832.62,419.06L836.44,419.07L840.25,420.30L844.06,420.29L847.88,418.59L851.69,416.73L855.50,415.94L859.31,414.37L863.12,410.30L866.94,411.27L870.75,398.82L874.56,397.61L878.38,389.81L882.19,392.51L886.00,400.25L889.81,396.87L893.62,383.29L897.44,387.81L901.25,393.28L905.06,401.07L908.88,403.21L912.69,398.74L916.50,385.97L920.31,395.46L924.12,395.16L927.94,395.19L931.75,397.37L935.56,391.72L939.38,383.91L943.19,372.97L947.00,345.16L950.81,350.68L954.62,342.14L958.44,349.53L962.25,369.06L966.06,376.88L969.88,389.38L973.69,398.75L977.50,404.22L981.31,407.61L985.12,407.66L988.94,407.66L988.94,300.64L809.75,300.64Z"/></clipPath>
<path d="M809.75,420.31L813.56,420.31L817.38,419.84L821.19,419.69L825.00,419.06L828.81,419.06L832.62,419.06L836.44,419.07L840.25,420.30L844.06,420.29L847.88,418.59L851.69,416.73L855.50,415.94L859.31,414.37L863.12,410.30L866.94,411.27L870.75,398.82L874.56,397.61L878.38,389.81L882.19,392.51L886.00,400.25L889.81,396.87L893.62,383.29L897.44,387.81L901.25,393.28L905.06,401.07L908.88,403.21L912.69,398.74L916.50,385.97L920.31,395.46L924.12,395.16L927.94,395.19L931.75,397.37L935.56,391.72L939.38,383.91L943.19,372.97L947.00,345.16L950.81,350.68L954.62,342.14L958.44,349.53L962.25,369.06L966.06,376.88L969.88,389.38L973.69,398.75L977.50,404.22L981.31,407.61L985.12,407.66L988.94,407.66L988.94,440.64L809.75,440.64Z" clip-path="url(#c11a)" fill="#d1be8b"/>
<path d="M809.75,420.31L813.56,420.31L817.38,420.31L821.19,420.31L825.00,420.31L828.81,420.31L832.62,420.31L836.44,420.31L840.25,420.31L844.06,420.29L847.88,418.34L851.69,419.48L855.50,418.00L859.31,418.73L863.12,417.52L866.94,417.92L870.75,415.16L874.56,411.58L878.38,410.78L882.19,409.19L886.00,403.71L889.81,405.78L893.62,408.27L897.44,402.90L901.25,404.47L905.06,399.59L908.88,399.26L912.69,401.68L916.50,398.54L920.31,401.87L924.12,403.56L927.94,393.57L931.75,394.84L935.56,396.97L939.38,379.22L943.19,361.26L947.00,357.33L950.81,349.31L954.62,359.69L958.44,372.19L962.25,378.75L966.06,383.92L969.88,403.44L973.69,409.69L977.50,413.59L981.31,416.41L985.12,419.05L988.94,420.31L988.94,440.64L809.75,440.64Z" clip-path="url(#c11b)" fill="#9ccbc6"/>
<path d="M809.75,420.31L813.56,420.31L817.38,420.31L821.19,420.31L825.00,420.31L828.81,420.31L832.62,420.31L836.44,420.31L840.25,420.31L844.06,420.29L847.88,418.34L851.69,419.48L855.50,418.00L859.31,418.73L863.12,417.52L866.94,417.92L870.75,415.16L874.56,411.58L878.38,410.78L882.19,409.19L886.00,403.71L889.81,405.78L893.62,408.27L897.44,402.90L901.25,404.47L905.06,399.59L908.88,399.26L912.69,401.68L916.50,398.54L920.31,401.87L924.12,403.56L927.94,393.57L931.75,394.84L935.56,396.97L939.38,379.22L943.19,361.26L947.00,357.33L950.81,349.31L954.62,359.69L958.44,372.19L962.25,378.75L966.06,383.92L969.88,403.44L973.69,409.69L977.50,413.59L981.31,416.41L985.12,419.05L988.94,420.31" class="lt"/>
<path d="M809.75,420.31L813.56,420.31L817.38,419.84L821.19,419.69L825.00,419.06L828.81,419.06L832.62,419.06L836.44,419.07L840.25,420.30L844.06,420.29L847.88,418.59L851.69,416.73L855.50,415.94L859.31,414.37L863.12,410.30L866.94,411.27L870.75,398.82L874.56,397.61L878.38,389.81L882.19,392.51L886.00,400.25L889.81,396.87L893.62,383.29L897.44,387.81L901.25,393.28L905.06,401.07L908.88,403.21L912.69,398.74L916.50,385.97L920.31,395.46L924.12,395.16L927.94,395.19L931.75,397.37L935.56,391.72L939.38,383.91L943.19,372.97L947.00,345.16L950.81,350.68L954.62,342.14L958.44,349.53L962.25,369.06L966.06,376.88L969.88,389.38L973.69,398.75L977.50,404.22L981.31,407.61L985.12,407.66L988.94,407.66" class="lg"/>
</g>
<g>
<line x1="51.95" x2="59.75" y1="576.81" y2="576.81" class="t"/>
<text class="pc" transform="translate(40.25 582.21) scale(0.66 1)">%</text>
<text class="yl" transform="translate(39.65 582.21) scale(0.88 1)">0</text>
<line x1="51.95" x2="59.75" y1="556.96" y2="556.96" class="t"/>
<text class="pc" transform="translate(40.25 562.36) scale(0.66 1)">%</text>
<text class="yl" transform="translate(39.65 562.36) scale(0.88 1)">5</text>
<line x1="51.95" x2="59.75" y1="537.11" y2="537.11" class="t"/>
<text class="pc" transform="translate(40.25 542.51) scale(0.66 1)">%</text>
<text class="yl" transform="translate(39.65 542.51) scale(0.88 1)"><tspan class="h">1</tspan>0</text>
<path class="one" d="M26.63,535.51L29.84,533.01L29.84,542.51"/>
<line x1="51.95" x2="59.75" y1="517.26" y2="517.26" class="t"/>
<text class="pc" transform="translate(40.25 522.66) scale(0.66 1)">%</text>
<text class="yl" transform="translate(39.65 522.66) scale(0.88 1)"><tspan class="h">1</tspan>5</text>
<path class="one" d="M26.63,515.66L29.84,513.16L29.84,522.66"/>
<line x1="59.75" x2="59.75" y1="576.81" y2="583.81" class="t"/>
<text x="59.75" y="599.41" class="xl"><tspan class="h">1</tspan>2a</text>
<path class="one" d="M48.95,592.41L52.60,589.91L52.60,599.41"/>
<line x1="105.50" x2="105.50" y1="576.81" y2="583.81" class="t"/>
<text x="105.50" y="599.41" class="xl">6a</text>
<line x1="151.25" x2="151.25" y1="576.81" y2="583.81" class="t"/>
<text x="151.25" y="599.41" class="xl"><tspan class="h">1</tspan>2p</text>
<path class="one" d="M140.45,592.41L144.10,589.91L144.10,599.41"/>
<line x1="197.00" x2="197.00" y1="576.81" y2="583.81" class="t"/>
<text x="197.00" y="599.41" class="xl">6p</text>
<clipPath id="c12a"><path d="M59.75,571.63L63.56,573.77L67.38,573.20L71.19,573.51L75.00,575.05L78.81,575.05L82.62,573.98L86.44,573.91L90.25,569.59L94.06,562.56L97.88,550.84L101.69,541.47L105.50,533.66L109.31,526.63L113.12,522.89L116.94,524.77L120.75,532.56L124.56,541.16L128.38,548.97L132.19,553.96L136.00,556.58L139.81,555.94L143.62,550.36L147.44,552.21L151.25,538.83L155.06,549.51L158.88,547.08L162.69,548.67L166.50,540.76L170.31,539.85L174.12,532.56L177.94,527.40L181.75,512.00L185.56,515.42L189.38,497.65L193.19,512.55L197.00,517.56L200.81,529.75L204.62,535.69L208.44,545.36L212.25,547.75L216.06,557.93L219.88,554.51L223.69,560.66L227.50,562.10L231.31,564.90L235.12,566.01L238.94,568.50L238.94,456.81L59.75,456.81Z"/></clipPath>
<clipPath id="c12b"><path d="M59.75,573.03L63.56,575.74L67.38,574.34L71.19,575.83L75.00,575.84L78.81,575.53L82.62,575.07L86.44,575.77L90.25,572.72L94.06,570.38L97.88,567.25L101.69,561.78L105.50,550.06L109.31,536.00L113.12,518.82L116.94,514.98L120.75,529.75L124.56,538.34L128.38,543.03L132.19,549.94L136.00,549.82L139.81,553.55L143.62,548.51L147.44,546.15L151.25,540.58L155.06,543.35L158.88,541.64L162.69,544.98L166.50,539.92L170.31,537.23L174.12,525.86L177.94,522.70L181.75,511.47L185.56,513.28L189.38,497.18L193.19,514.91L197.00,522.72L200.81,530.53L204.62,537.56L208.44,546.80L212.25,546.79L216.06,557.26L219.88,554.50L223.69,562.20L227.50,563.39L231.31,570.96L235.12,570.07L238.94,570.38L238.94,456.81L59.75,456.81Z"/></clipPath>
<path d="M59.75,573.03L63.56,575.74L67.38,574.34L71.19,575.83L75.00,575.84L78.81,575.53L82.62,575.07L86.44,575.77L90.25,572.72L94.06,570.38L97.88,567.25L101.69,561.78L105.50,550.06L109.31,536.00L113.12,518.82L116.94,514.98L120.75,529.75L124.56,538.34L128.38,543.03L132.19,549.94L136.00,549.82L139.81,553.55L143.62,548.51L147.44,546.15L151.25,540.58L155.06,543.35L158.88,541.64L162.69,544.98L166.50,539.92L170.31,537.23L174.12,525.86L177.94,522.70L181.75,511.47L185.56,513.28L189.38,497.18L193.19,514.91L197.00,522.72L200.81,530.53L204.62,537.56L208.44,546.80L212.25,546.79L216.06,557.26L219.88,554.50L223.69,562.20L227.50,563.39L231.31,570.96L235.12,570.07L238.94,570.38L238.94,596.81L59.75,596.81Z" clip-path="url(#c12a)" fill="#d1be8b"/>
<path d="M59.75,571.63L63.56,573.77L67.38,573.20L71.19,573.51L75.00,575.05L78.81,575.05L82.62,573.98L86.44,573.91L90.25,569.59L94.06,562.56L97.88,550.84L101.69,541.47L105.50,533.66L109.31,526.63L113.12,522.89L116.94,524.77L120.75,532.56L124.56,541.16L128.38,548.97L132.19,553.96L136.00,556.58L139.81,555.94L143.62,550.36L147.44,552.21L151.25,538.83L155.06,549.51L158.88,547.08L162.69,548.67L166.50,540.76L170.31,539.85L174.12,532.56L177.94,527.40L181.75,512.00L185.56,515.42L189.38,497.65L193.19,512.55L197.00,517.56L200.81,529.75L204.62,535.69L208.44,545.36L212.25,547.75L216.06,557.93L219.88,554.51L223.69,560.66L227.50,562.10L231.31,564.90L235.12,566.01L238.94,568.50L238.94,596.81L59.75,596.81Z" clip-path="url(#c12b)" fill="#9ccbc6"/>
<path d="M59.75,571.63L63.56,573.77L67.38,573.20L71.19,573.51L75.00,575.05L78.81,575.05L82.62,573.98L86.44,573.91L90.25,569.59L94.06,562.56L97.88,550.84L101.69,541.47L105.50,533.66L109.31,526.63L113.12,522.89L116.94,524.77L120.75,532.56L124.56,541.16L128.38,548.97L132.19,553.96L136.00,556.58L139.81,555.94L143.62,550.36L147.44,552.21L151.25,538.83L155.06,549.51L158.88,547.08L162.69,548.67L166.50,540.76L170.31,539.85L174.12,532.56L177.94,527.40L181.75,512.00L185.56,515.42L189.38,497.65L193.19,512.55L197.00,517.56L200.81,529.75L204.62,535.69L208.44,545.36L212.25,547.75L216.06,557.93L219.88,554.51L223.69,560.66L227.50,562.10L231.31,564.90L235.12,566.01L238.94,568.50" class="lt"/>
<path d="M59.75,573.03L63.56,575.74L67.38,574.34L71.19,575.83L75.00,575.84L78.81,575.53L82.62,575.07L86.44,575.77L90.25,572.72L94.06,570.38L97.88,567.25L101.69,561.78L105.50,550.06L109.31,536.00L113.12,518.82L116.94,514.98L120.75,529.75L124.56,538.34L128.38,543.03L132.19,549.94L136.00,549.82L139.81,553.55L143.62,548.51L147.44,546.15L151.25,540.58L155.06,543.35L158.88,541.64L162.69,544.98L166.50,539.92L170.31,537.23L174.12,525.86L177.94,522.70L181.75,511.47L185.56,513.28L189.38,497.18L193.19,514.91L197.00,522.72L200.81,530.53L204.62,537.56L208.44,546.80L212.25,546.79L216.06,557.26L219.88,554.50L223.69,562.20L227.50,563.39L231.31,570.96L235.12,570.07L238.94,570.38" class="lg"/>
</g>
<g>
<line x1="301.95" x2="309.75" y1="576.81" y2="576.81" class="t"/>
<text class="pc" transform="translate(290.25 582.21) scale(0.66 1)">%</text>
<text class="yl" transform="translate(289.65 582.21) scale(0.88 1)">0</text>
<line x1="301.95" x2="309.75" y1="560.94" y2="560.94" class="t"/>
<line x1="301.95" x2="309.75" y1="545.06" y2="545.06" class="t"/>
<line x1="301.95" x2="309.75" y1="529.21" y2="529.21" class="t"/>
<line x1="301.95" x2="309.75" y1="513.31" y2="513.31" class="t"/>
<line x1="301.95" x2="309.75" y1="497.41" y2="497.41" class="t"/>
<text class="pc" transform="translate(290.25 502.81) scale(0.66 1)">%</text>
<text class="yl" transform="translate(289.65 502.81) scale(0.88 1)"><tspan class="h">1</tspan></text>
<path class="one" d="M283.67,495.81L286.88,493.31L286.88,502.81"/>
<line x1="309.75" x2="309.75" y1="576.81" y2="583.81" class="t"/>
<text x="309.75" y="599.41" class="xl"><tspan class="h">1</tspan>2a</text>
<path class="one" d="M298.95,592.41L302.60,589.91L302.60,599.41"/>
<line x1="355.50" x2="355.50" y1="576.81" y2="583.81" class="t"/>
<text x="355.50" y="599.41" class="xl">6a</text>
<line x1="401.25" x2="401.25" y1="576.81" y2="583.81" class="t"/>
<text x="401.25" y="599.41" class="xl"><tspan class="h">1</tspan>2p</text>
<path class="one" d="M390.45,592.41L394.10,589.91L394.10,599.41"/>
<line x1="447.00" x2="447.00" y1="576.81" y2="583.81" class="t"/>
<text x="447.00" y="599.41" class="xl">6p</text>
<clipPath id="c13a"><path d="M309.75,576.63L313.56,576.63L317.38,576.63L321.19,576.63L325.00,576.63L328.81,576.59L332.62,573.54L336.44,573.54L340.25,576.47L344.06,574.26L347.88,567.88L351.69,572.23L355.50,567.72L359.31,563.56L363.12,568.75L366.94,561.05L370.75,559.95L374.56,561.45L378.38,561.13L382.19,567.42L386.00,565.38L389.81,563.32L393.62,569.59L397.44,573.45L401.25,573.43L405.06,568.98L408.88,570.17L412.69,564.20L416.50,563.58L420.31,556.04L424.12,554.96L427.94,562.42L431.75,562.09L435.56,562.10L439.38,563.02L443.19,562.60L447.00,564.84L450.81,563.66L454.62,563.34L458.44,563.43L462.25,569.50L466.06,569.60L469.88,570.83L473.69,570.84L477.50,570.88L481.31,573.97L485.12,576.60L488.94,576.63L488.94,456.81L309.75,456.81Z"/></clipPath>
<clipPath id="c13b"><path d="M309.75,576.63L313.56,576.63L317.38,576.55L321.19,571.24L325.00,571.16L328.81,571.16L332.62,571.16L336.44,571.24L340.25,576.33L344.06,573.81L347.88,570.37L351.69,562.42L355.50,562.87L359.31,556.01L363.12,553.13L366.94,556.57L370.75,554.52L374.56,558.97L378.38,566.36L382.19,563.66L386.00,561.31L389.81,558.96L393.62,554.95L397.44,563.66L401.25,567.95L405.06,557.79L408.88,570.77L412.69,571.68L416.50,557.09L420.31,549.43L424.12,556.00L427.94,565.88L431.75,564.68L435.56,566.77L439.38,563.70L443.19,563.73L447.00,568.16L450.81,561.47L454.62,564.25L458.44,559.92L462.25,561.23L466.06,559.34L469.88,563.66L473.69,566.90L477.50,566.94L481.31,567.06L485.12,576.51L488.94,576.63L488.94,456.81L309.75,456.81Z"/></clipPath>
<path d="M309.75,576.63L313.56,576.63L317.38,576.55L321.19,571.24L325.00,571.16L328.81,571.16L332.62,571.16L336.44,571.24L340.25,576.33L344.06,573.81L347.88,570.37L351.69,562.42L355.50,562.87L359.31,556.01L363.12,553.13L366.94,556.57L370.75,554.52L374.56,558.97L378.38,566.36L382.19,563.66L386.00,561.31L389.81,558.96L393.62,554.95L397.44,563.66L401.25,567.95L405.06,557.79L408.88,570.77L412.69,571.68L416.50,557.09L420.31,549.43L424.12,556.00L427.94,565.88L431.75,564.68L435.56,566.77L439.38,563.70L443.19,563.73L447.00,568.16L450.81,561.47L454.62,564.25L458.44,559.92L462.25,561.23L466.06,559.34L469.88,563.66L473.69,566.90L477.50,566.94L481.31,567.06L485.12,576.51L488.94,576.63L488.94,596.81L309.75,596.81Z" clip-path="url(#c13a)" fill="#d1be8b"/>
<path d="M309.75,576.63L313.56,576.63L317.38,576.63L321.19,576.63L325.00,576.63L328.81,576.59L332.62,573.54L336.44,573.54L340.25,576.47L344.06,574.26L347.88,567.88L351.69,572.23L355.50,567.72L359.31,563.56L363.12,568.75L366.94,561.05L370.75,559.95L374.56,561.45L378.38,561.13L382.19,567.42L386.00,565.38L389.81,563.32L393.62,569.59L397.44,573.45L401.25,573.43L405.06,568.98L408.88,570.17L412.69,564.20L416.50,563.58L420.31,556.04L424.12,554.96L427.94,562.42L431.75,562.09L435.56,562.10L439.38,563.02L443.19,562.60L447.00,564.84L450.81,563.66L454.62,563.34L458.44,563.43L462.25,569.50L466.06,569.60L469.88,570.83L473.69,570.84L477.50,570.88L481.31,573.97L485.12,576.60L488.94,576.63L488.94,596.81L309.75,596.81Z" clip-path="url(#c13b)" fill="#9ccbc6"/>
<path d="M309.75,576.63L313.56,576.63L317.38,576.63L321.19,576.63L325.00,576.63L328.81,576.59L332.62,573.54L336.44,573.54L340.25,576.47L344.06,574.26L347.88,567.88L351.69,572.23L355.50,567.72L359.31,563.56L363.12,568.75L366.94,561.05L370.75,559.95L374.56,561.45L378.38,561.13L382.19,567.42L386.00,565.38L389.81,563.32L393.62,569.59L397.44,573.45L401.25,573.43L405.06,568.98L408.88,570.17L412.69,564.20L416.50,563.58L420.31,556.04L424.12,554.96L427.94,562.42L431.75,562.09L435.56,562.10L439.38,563.02L443.19,562.60L447.00,564.84L450.81,563.66L454.62,563.34L458.44,563.43L462.25,569.50L466.06,569.60L469.88,570.83L473.69,570.84L477.50,570.88L481.31,573.97L485.12,576.60L488.94,576.63" class="lt"/>
<path d="M309.75,576.63L313.56,576.63L317.38,576.55L321.19,571.24L325.00,571.16L328.81,571.16L332.62,571.16L336.44,571.24L340.25,576.33L344.06,573.81L347.88,570.37L351.69,562.42L355.50,562.87L359.31,556.01L363.12,553.13L366.94,556.57L370.75,554.52L374.56,558.97L378.38,566.36L382.19,563.66L386.00,561.31L389.81,558.96L393.62,554.95L397.44,563.66L401.25,567.95L405.06,557.79L408.88,570.77L412.69,571.68L416.50,557.09L420.31,549.43L424.12,556.00L427.94,565.88L431.75,564.68L435.56,566.77L439.38,563.70L443.19,563.73L447.00,568.16L450.81,561.47L454.62,564.25L458.44,559.92L462.25,561.23L466.06,559.34L469.88,563.66L473.69,566.90L477.50,566.94L481.31,567.06L485.12,576.51L488.94,576.63" class="lg"/>
</g>
<g>
<line x1="551.95" x2="559.75" y1="576.81" y2="576.81" class="t"/>
<text class="pc" transform="translate(540.25 582.21) scale(0.66 1)">%</text>
<text class="yl" transform="translate(539.65 582.21) scale(0.88 1)">0</text>
<line x1="551.95" x2="559.75" y1="563.28" y2="563.28" class="t"/>
<line x1="551.95" x2="559.75" y1="549.74" y2="549.74" class="t"/>
<line x1="551.95" x2="559.75" y1="536.21" y2="536.21" class="t"/>
<line x1="551.95" x2="559.75" y1="522.71" y2="522.71" class="t"/>
<line x1="551.95" x2="559.75" y1="509.11" y2="509.11" class="t"/>
<text class="pc" transform="translate(540.25 514.51) scale(0.66 1)">%</text>
<text class="yl" transform="translate(539.65 514.51) scale(0.88 1)"><tspan class="h">1</tspan></text>
<path class="one" d="M533.67,507.51L536.88,505.01L536.88,514.51"/>
<line x1="559.75" x2="559.75" y1="576.81" y2="583.81" class="t"/>
<text x="559.75" y="599.41" class="xl"><tspan class="h">1</tspan>2a</text>
<path class="one" d="M548.95,592.41L552.60,589.91L552.60,599.41"/>
<line x1="605.50" x2="605.50" y1="576.81" y2="583.81" class="t"/>
<text x="605.50" y="599.41" class="xl">6a</text>
<line x1="651.25" x2="651.25" y1="576.81" y2="583.81" class="t"/>
<text x="651.25" y="599.41" class="xl"><tspan class="h">1</tspan>2p</text>
<path class="one" d="M640.45,592.41L644.10,589.91L644.10,599.41"/>
<line x1="697.00" x2="697.00" y1="576.81" y2="583.81" class="t"/>
<text x="697.00" y="599.41" class="xl">6p</text>
<clipPath id="c14a"><path d="M559.75,572.72L563.56,570.89L567.38,571.95L571.19,574.34L575.00,570.11L578.81,571.88L582.62,570.85L586.44,570.99L590.25,558.19L594.06,550.86L597.88,548.47L601.69,536.18L605.50,539.91L609.31,523.26L613.12,522.12L616.94,527.98L620.75,526.84L624.56,532.12L628.38,525.74L632.19,530.53L636.00,543.34L639.81,549.05L643.62,544.59L647.44,538.67L651.25,548.62L655.06,541.20L658.88,547.05L662.69,544.56L666.50,524.71L670.31,526.31L674.12,529.76L677.94,541.68L681.75,534.44L685.56,522.98L689.38,544.67L693.19,538.93L697.00,539.11L700.81,537.55L704.62,533.34L708.44,529.74L712.25,515.71L716.06,513.50L719.88,542.78L723.69,533.80L727.50,548.50L731.31,561.00L735.12,567.20L738.94,568.03L738.94,456.81L559.75,456.81Z"/></clipPath>
<clipPath id="c14b"><path d="M559.75,568.34L563.56,566.48L567.38,565.69L571.19,564.51L575.00,566.78L578.81,570.34L582.62,570.59L586.44,565.78L590.25,570.64L594.06,566.20L597.88,565.13L601.69,548.50L605.50,515.69L609.31,498.03L613.12,503.97L616.94,531.87L620.75,517.16L624.56,517.82L628.38,537.54L632.19,540.73L636.00,534.44L639.81,508.84L643.62,539.91L647.44,547.34L651.25,547.82L655.06,532.09L658.88,517.79L662.69,541.09L666.50,542.30L670.31,532.09L674.12,520.39L677.94,516.04L681.75,519.60L685.56,540.44L689.38,528.41L693.19,532.81L697.00,524.28L700.81,519.59L704.62,516.47L708.44,514.16L712.25,513.99L716.06,503.52L719.88,516.47L723.69,529.75L727.50,550.05L731.31,555.53L735.12,565.68L738.94,568.81L738.94,456.81L559.75,456.81Z"/></clipPath>
<path d="M559.75,568.34L563.56,566.48L567.38,565.69L571.19,564.51L575.00,566.78L578.81,570.34L582.62,570.59L586.44,565.78L590.25,570.64L594.06,566.20L597.88,565.13L601.69,548.50L605.50,515.69L609.31,498.03L613.12,503.97L616.94,531.87L620.75,517.16L624.56,517.82L628.38,537.54L632.19,540.73L636.00,534.44L639.81,508.84L643.62,539.91L647.44,547.34L651.25,547.82L655.06,532.09L658.88,517.79L662.69,541.09L666.50,542.30L670.31,532.09L674.12,520.39L677.94,516.04L681.75,519.60L685.56,540.44L689.38,528.41L693.19,532.81L697.00,524.28L700.81,519.59L704.62,516.47L708.44,514.16L712.25,513.99L716.06,503.52L719.88,516.47L723.69,529.75L727.50,550.05L731.31,555.53L735.12,565.68L738.94,568.81L738.94,596.81L559.75,596.81Z" clip-path="url(#c14a)" fill="#d1be8b"/>
<path d="M559.75,572.72L563.56,570.89L567.38,571.95L571.19,574.34L575.00,570.11L578.81,571.88L582.62,570.85L586.44,570.99L590.25,558.19L594.06,550.86L597.88,548.47L601.69,536.18L605.50,539.91L609.31,523.26L613.12,522.12L616.94,527.98L620.75,526.84L624.56,532.12L628.38,525.74L632.19,530.53L636.00,543.34L639.81,549.05L643.62,544.59L647.44,538.67L651.25,548.62L655.06,541.20L658.88,547.05L662.69,544.56L666.50,524.71L670.31,526.31L674.12,529.76L677.94,541.68L681.75,534.44L685.56,522.98L689.38,544.67L693.19,538.93L697.00,539.11L700.81,537.55L704.62,533.34L708.44,529.74L712.25,515.71L716.06,513.50L719.88,542.78L723.69,533.80L727.50,548.50L731.31,561.00L735.12,567.20L738.94,568.03L738.94,596.81L559.75,596.81Z" clip-path="url(#c14b)" fill="#9ccbc6"/>
<path d="M559.75,572.72L563.56,570.89L567.38,571.95L571.19,574.34L575.00,570.11L578.81,571.88L582.62,570.85L586.44,570.99L590.25,558.19L594.06,550.86L597.88,548.47L601.69,536.18L605.50,539.91L609.31,523.26L613.12,522.12L616.94,527.98L620.75,526.84L624.56,532.12L628.38,525.74L632.19,530.53L636.00,543.34L639.81,549.05L643.62,544.59L647.44,538.67L651.25,548.62L655.06,541.20L658.88,547.05L662.69,544.56L666.50,524.71L670.31,526.31L674.12,529.76L677.94,541.68L681.75,534.44L685.56,522.98L689.38,544.67L693.19,538.93L697.00,539.11L700.81,537.55L704.62,533.34L708.44,529.74L712.25,515.71L716.06,513.50L719.88,542.78L723.69,533.80L727.50,548.50L731.31,561.00L735.12,567.20L738.94,568.03" class="lt"/>
<path d="M559.75,568.34L563.56,566.48L567.38,565.69L571.19,564.51L575.00,566.78L578.81,570.34L582.62,570.59L586.44,565.78L590.25,570.64L594.06,566.20L597.88,565.13L601.69,548.50L605.50,515.69L609.31,498.03L613.12,503.97L616.94,531.87L620.75,517.16L624.56,517.82L628.38,537.54L632.19,540.73L636.00,534.44L639.81,508.84L643.62,539.91L647.44,547.34L651.25,547.82L655.06,532.09L658.88,517.79L662.69,541.09L666.50,542.30L670.31,532.09L674.12,520.39L677.94,516.04L681.75,519.60L685.56,540.44L689.38,528.41L693.19,532.81L697.00,524.28L700.81,519.59L704.62,516.47L708.44,514.16L712.25,513.99L716.06,503.52L719.88,516.47L723.69,529.75L727.50,550.05L731.31,555.53L735.12,565.68L738.94,568.81" class="lg"/>
</g>
</svg>
</body></html>
